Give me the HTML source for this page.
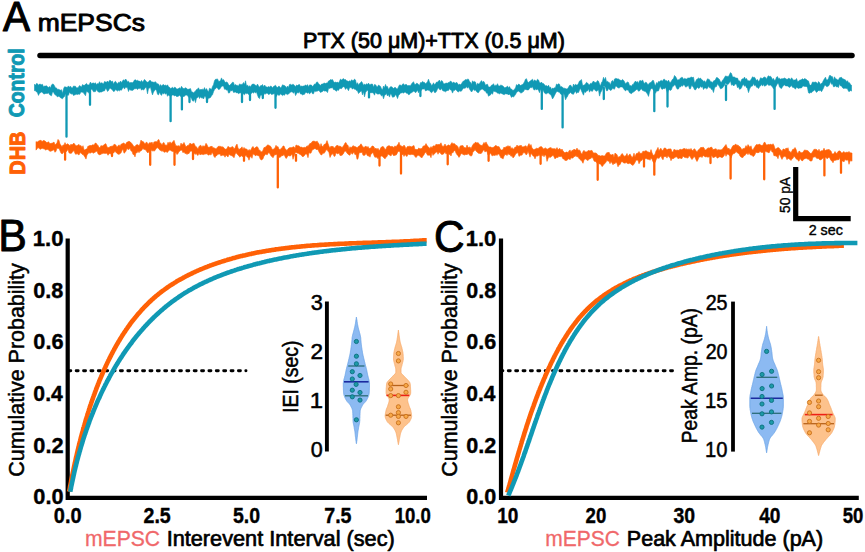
<!DOCTYPE html>
<html><head><meta charset="utf-8"><title>mEPSCs</title>
<style>
html,body{margin:0;padding:0;background:#fff;}
body{width:865px;height:552px;overflow:hidden;}
svg{display:block;font-family:"Liberation Sans", sans-serif;}
</style></head><body>
<svg width="865" height="552" viewBox="0 0 865 552">
<rect width="865" height="552" fill="#fff"/>
<text x="3.12" y="31.2" font-size="42.6" font-weight="normal" fill="#000" textLength="27.06" lengthAdjust="spacingAndGlyphs" stroke="#000" stroke-width="1.2" stroke-linejoin="round">A</text><text x="37.69" y="31.4" font-size="23.8" font-weight="normal" fill="#000" textLength="107.31" lengthAdjust="spacingAndGlyphs" stroke="#000" stroke-width="0.9" stroke-linejoin="round">mEPSCs</text><text x="303.09" y="47.5" font-size="22.1" font-weight="normal" fill="#000" textLength="261.80" lengthAdjust="spacingAndGlyphs" stroke="#000" stroke-width="0.9" stroke-linejoin="round">PTX (50 μM)+TTX (0.5 μM)</text><line x1="40" y1="55.6" x2="852" y2="55.6" stroke="#000" stroke-width="5.5" stroke-linecap="round"/><text transform="translate(23.7 117) rotate(-90)" x="-0.30" y="0" font-size="22.2" font-weight="bold" fill="#1099b4" textLength="69.07" lengthAdjust="spacingAndGlyphs" stroke="#1099b4" stroke-width="1.0" stroke-linejoin="round">Control</text><text transform="translate(25.4 173.8) rotate(-90)" x="-0.83" y="0" font-size="22.2" font-weight="bold" fill="#ff6106" textLength="43.03" lengthAdjust="spacingAndGlyphs" stroke="#ff6106" stroke-width="1.0" stroke-linejoin="round">DHB</text><path d="M34.5 84.3 L35.5 85.3 L36.5 83.5 L37.5 83.8 L38.5 85.3 L39.5 84.1 L40.5 84.3 L41.5 84.7 L42.5 84.3 L43.5 87.0 L44.5 85.9 L45.5 86.1 L46.5 85.8 L47.5 86.7 L48.5 87.4 L49.5 86.5 L50.5 88.1 L51.5 84.9 L52.5 84.1 L53.5 84.3 L54.5 85.9 L55.5 87.9 L56.5 87.9 L57.5 89.5 L58.5 89.3 L59.5 89.7 L60.5 90.2 L61.5 89.7 L62.5 93.4 L63.5 88.9 L64.5 86.8 L65.5 86.9 L66.5 87.3 L67.5 87.2 L68.5 85.9 L69.5 87.3 L70.5 86.2 L71.5 87.7 L72.5 87.9 L73.5 86.0 L74.5 86.2 L75.5 86.3 L76.5 87.9 L77.5 87.8 L78.5 87.2 L79.5 85.6 L80.5 86.3 L81.5 87.1 L82.5 84.6 L83.5 85.3 L84.5 85.3 L85.5 84.3 L86.5 83.4 L87.5 84.9 L88.5 84.9 L89.5 84.2 L90.5 82.0 L91.5 84.1 L92.5 83.0 L93.5 83.0 L94.5 83.4 L95.5 82.8 L96.5 84.7 L97.5 83.6 L98.5 83.9 L99.5 81.7 L100.5 83.6 L101.5 82.7 L102.5 83.2 L103.5 84.0 L104.5 81.5 L105.5 81.9 L106.5 82.3 L107.5 81.0 L108.5 82.6 L109.5 80.4 L110.5 80.5 L111.5 81.7 L112.5 81.1 L113.5 84.2 L114.5 82.1 L115.5 81.3 L116.5 82.8 L117.5 84.1 L118.5 82.2 L119.5 82.7 L120.5 81.1 L121.5 82.7 L122.5 81.0 L123.5 79.8 L124.5 80.7 L125.5 79.0 L126.5 80.0 L127.5 82.0 L128.5 81.2 L129.5 83.0 L130.5 82.6 L131.5 82.5 L132.5 82.7 L133.5 81.7 L134.5 80.0 L135.5 79.8 L136.5 80.7 L137.5 80.3 L138.5 81.0 L139.5 81.1 L140.5 82.1 L141.5 80.4 L142.5 82.2 L143.5 80.9 L144.5 79.4 L145.5 80.5 L146.5 81.8 L147.5 82.3 L148.5 81.9 L149.5 80.5 L150.5 80.5 L151.5 82.0 L152.5 81.9 L153.5 82.3 L154.5 82.2 L155.5 81.7 L156.5 83.2 L157.5 83.7 L158.5 84.0 L159.5 86.4 L160.5 84.6 L161.5 86.2 L162.5 84.9 L163.5 84.5 L164.5 85.6 L165.5 84.9 L166.5 86.1 L167.5 84.8 L168.5 86.8 L169.5 87.3 L170.5 88.4 L171.5 88.1 L172.5 87.2 L173.5 88.5 L174.5 87.2 L175.5 87.6 L176.5 89.0 L177.5 89.0 L178.5 88.5 L179.5 87.8 L180.5 88.7 L181.5 86.3 L182.5 88.0 L183.5 88.5 L184.5 88.4 L185.5 87.7 L186.5 88.3 L187.5 89.3 L188.5 89.3 L189.5 88.9 L190.5 88.6 L191.5 91.8 L192.5 92.1 L193.5 92.8 L194.5 92.0 L195.5 91.0 L196.5 89.6 L197.5 89.2 L198.5 87.8 L199.5 90.0 L200.5 89.5 L201.5 89.5 L202.5 89.2 L203.5 89.7 L204.5 87.6 L205.5 90.2 L206.5 88.6 L207.5 90.6 L208.5 91.9 L209.5 88.2 L210.5 88.8 L211.5 89.5 L212.5 86.4 L213.5 84.7 L214.5 80.7 L215.5 79.3 L216.5 79.2 L217.5 78.9 L218.5 81.2 L219.5 81.2 L220.5 80.6 L221.5 77.9 L222.5 80.3 L223.5 79.6 L224.5 81.3 L225.5 82.5 L226.5 82.0 L227.5 82.6 L228.5 84.6 L229.5 85.6 L230.5 84.4 L231.5 83.6 L232.5 82.2 L233.5 82.4 L234.5 85.6 L235.5 84.5 L236.5 85.3 L237.5 85.4 L238.5 86.1 L239.5 83.9 L240.5 84.4 L241.5 84.4 L242.5 84.3 L243.5 82.5 L244.5 84.6 L245.5 80.8 L246.5 85.9 L247.5 84.9 L248.5 87.0 L249.5 85.7 L250.5 87.1 L251.5 85.1 L252.5 84.1 L253.5 84.1 L254.5 84.4 L255.5 85.3 L256.5 86.0 L257.5 84.1 L258.5 86.1 L259.5 87.3 L260.5 85.7 L261.5 85.6 L262.5 84.5 L263.5 87.0 L264.5 85.1 L265.5 86.2 L266.5 86.9 L267.5 87.2 L268.5 86.5 L269.5 87.2 L270.5 86.0 L271.5 86.4 L272.5 87.9 L273.5 86.5 L274.5 85.9 L275.5 85.2 L276.5 87.1 L277.5 87.6 L278.5 86.3 L279.5 86.4 L280.5 88.1 L281.5 87.0 L282.5 84.8 L283.5 85.3 L284.5 85.6 L285.5 86.3 L286.5 87.9 L287.5 86.0 L288.5 87.4 L289.5 84.5 L290.5 84.3 L291.5 85.0 L292.5 84.4 L293.5 84.4 L294.5 85.6 L295.5 86.8 L296.5 85.0 L297.5 85.5 L298.5 84.8 L299.5 84.5 L300.5 86.5 L301.5 86.1 L302.5 86.3 L303.5 86.0 L304.5 86.0 L305.5 84.8 L306.5 86.0 L307.5 84.6 L308.5 86.9 L309.5 84.9 L310.5 84.9 L311.5 85.1 L312.5 86.5 L313.5 85.6 L314.5 84.0 L315.5 84.3 L316.5 82.2 L317.5 81.9 L318.5 83.8 L319.5 84.4 L320.5 85.5 L321.5 84.1 L322.5 84.0 L323.5 83.4 L324.5 83.1 L325.5 83.5 L326.5 83.0 L327.5 83.1 L328.5 81.0 L329.5 80.5 L330.5 79.6 L331.5 79.9 L332.5 79.6 L333.5 81.4 L334.5 82.5 L335.5 82.1 L336.5 82.5 L337.5 82.1 L338.5 83.1 L339.5 81.3 L340.5 79.1 L341.5 80.0 L342.5 79.3 L343.5 78.6 L344.5 79.7 L345.5 79.5 L346.5 80.7 L347.5 81.0 L348.5 81.5 L349.5 80.8 L350.5 81.5 L351.5 79.8 L352.5 80.4 L353.5 80.6 L354.5 79.1 L355.5 80.0 L356.5 84.5 L357.5 82.7 L358.5 85.2 L359.5 83.6 L360.5 82.7 L361.5 81.5 L362.5 82.9 L363.5 85.3 L364.5 84.1 L365.5 85.0 L366.5 83.7 L367.5 84.6 L368.5 83.1 L369.5 84.7 L370.5 84.4 L371.5 84.1 L372.5 84.1 L373.5 87.2 L374.5 84.5 L375.5 84.8 L376.5 86.3 L377.5 86.9 L378.5 85.1 L379.5 85.7 L380.5 86.4 L381.5 88.7 L382.5 90.0 L383.5 86.0 L384.5 87.7 L385.5 84.4 L386.5 86.8 L387.5 86.5 L388.5 89.6 L389.5 88.0 L390.5 86.7 L391.5 86.7 L392.5 87.4 L393.5 88.5 L394.5 87.6 L395.5 87.5 L396.5 88.7 L397.5 88.9 L398.5 86.7 L399.5 84.9 L400.5 84.9 L401.5 85.9 L402.5 84.2 L403.5 83.7 L404.5 85.2 L405.5 84.5 L406.5 84.5 L407.5 85.7 L408.5 85.5 L409.5 85.6 L410.5 85.8 L411.5 83.9 L412.5 82.8 L413.5 81.7 L414.5 84.3 L415.5 84.5 L416.5 83.2 L417.5 83.5 L418.5 84.4 L419.5 85.5 L420.5 82.6 L421.5 82.7 L422.5 81.4 L423.5 82.2 L424.5 82.4 L425.5 83.8 L426.5 83.1 L427.5 81.7 L428.5 79.2 L429.5 82.3 L430.5 83.3 L431.5 85.4 L432.5 84.8 L433.5 82.8 L434.5 84.8 L435.5 83.7 L436.5 82.1 L437.5 82.2 L438.5 81.1 L439.5 80.1 L440.5 82.6 L441.5 80.5 L442.5 81.2 L443.5 83.8 L444.5 83.8 L445.5 83.3 L446.5 83.1 L447.5 83.2 L448.5 82.5 L449.5 82.2 L450.5 81.1 L451.5 81.7 L452.5 83.3 L453.5 82.1 L454.5 82.8 L455.5 83.2 L456.5 82.2 L457.5 83.3 L458.5 85.1 L459.5 84.1 L460.5 84.7 L461.5 83.7 L462.5 82.0 L463.5 81.0 L464.5 80.4 L465.5 79.6 L466.5 79.8 L467.5 79.2 L468.5 79.2 L469.5 81.6 L470.5 82.2 L471.5 84.6 L472.5 80.8 L473.5 82.1 L474.5 81.4 L475.5 82.1 L476.5 85.7 L477.5 83.3 L478.5 84.0 L479.5 83.4 L480.5 81.9 L481.5 80.6 L482.5 82.4 L483.5 81.2 L484.5 82.6 L485.5 85.3 L486.5 84.5 L487.5 84.2 L488.5 87.1 L489.5 87.1 L490.5 86.7 L491.5 85.2 L492.5 85.0 L493.5 83.7 L494.5 85.9 L495.5 85.2 L496.5 85.5 L497.5 83.7 L498.5 85.9 L499.5 86.0 L500.5 85.2 L501.5 85.3 L502.5 85.7 L503.5 86.5 L504.5 87.8 L505.5 87.5 L506.5 87.0 L507.5 86.1 L508.5 88.0 L509.5 86.6 L510.5 88.7 L511.5 89.0 L512.5 90.3 L513.5 90.2 L514.5 89.3 L515.5 88.0 L516.5 84.6 L517.5 85.6 L518.5 84.1 L519.5 84.6 L520.5 85.5 L521.5 84.9 L522.5 84.6 L523.5 83.4 L524.5 81.7 L525.5 79.2 L526.5 78.7 L527.5 81.8 L528.5 82.4 L529.5 81.5 L530.5 80.8 L531.5 80.1 L532.5 79.2 L533.5 81.8 L534.5 79.8 L535.5 80.8 L536.5 81.2 L537.5 79.2 L538.5 80.0 L539.5 82.5 L540.5 83.1 L541.5 82.1 L542.5 83.5 L543.5 83.6 L544.5 84.7 L545.5 86.0 L546.5 85.6 L547.5 86.6 L548.5 85.2 L549.5 87.4 L550.5 87.1 L551.5 89.5 L552.5 88.1 L553.5 88.4 L554.5 87.8 L555.5 87.4 L556.5 84.0 L557.5 84.7 L558.5 83.8 L559.5 84.2 L560.5 86.9 L561.5 86.6 L562.5 87.2 L563.5 88.2 L564.5 88.2 L565.5 88.6 L566.5 88.9 L567.5 88.7 L568.5 87.3 L569.5 85.5 L570.5 85.1 L571.5 86.2 L572.5 88.0 L573.5 84.0 L574.5 85.7 L575.5 84.3 L576.5 85.0 L577.5 84.9 L578.5 83.3 L579.5 81.1 L580.5 80.4 L581.5 79.6 L582.5 85.2 L583.5 85.3 L584.5 84.8 L585.5 84.0 L586.5 82.3 L587.5 83.1 L588.5 84.2 L589.5 84.9 L590.5 83.3 L591.5 83.7 L592.5 82.2 L593.5 81.0 L594.5 82.3 L595.5 82.6 L596.5 82.2 L597.5 80.6 L598.5 81.3 L599.5 83.9 L600.5 86.0 L601.5 82.5 L602.5 81.2 L603.5 77.3 L604.5 80.0 L605.5 77.4 L606.5 81.7 L607.5 81.2 L608.5 82.3 L609.5 82.7 L610.5 85.0 L611.5 81.5 L612.5 80.4 L613.5 82.2 L614.5 79.0 L615.5 78.4 L616.5 78.6 L617.5 78.9 L618.5 78.9 L619.5 79.7 L620.5 80.3 L621.5 80.5 L622.5 79.4 L623.5 80.3 L624.5 81.7 L625.5 83.9 L626.5 82.7 L627.5 82.0 L628.5 82.5 L629.5 85.5 L630.5 85.6 L631.5 86.2 L632.5 84.4 L633.5 84.2 L634.5 82.2 L635.5 81.1 L636.5 82.2 L637.5 81.6 L638.5 83.4 L639.5 80.8 L640.5 80.6 L641.5 81.3 L642.5 79.9 L643.5 81.9 L644.5 83.8 L645.5 82.2 L646.5 82.6 L647.5 84.3 L648.5 84.4 L649.5 82.9 L650.5 82.6 L651.5 82.0 L652.5 80.4 L653.5 80.5 L654.5 84.0 L655.5 85.8 L656.5 82.6 L657.5 83.4 L658.5 81.4 L659.5 81.7 L660.5 80.8 L661.5 80.4 L662.5 81.2 L663.5 79.4 L664.5 79.2 L665.5 80.7 L666.5 80.6 L667.5 81.8 L668.5 80.1 L669.5 82.3 L670.5 82.4 L671.5 80.9 L672.5 79.3 L673.5 78.6 L674.5 75.5 L675.5 76.5 L676.5 78.3 L677.5 80.3 L678.5 79.7 L679.5 79.4 L680.5 78.0 L681.5 77.4 L682.5 77.4 L683.5 79.3 L684.5 78.4 L685.5 78.8 L686.5 79.1 L687.5 78.2 L688.5 78.0 L689.5 78.0 L690.5 77.4 L691.5 77.1 L692.5 77.5 L693.5 77.2 L694.5 83.0 L695.5 81.7 L696.5 79.6 L697.5 78.9 L698.5 78.0 L699.5 78.7 L700.5 78.1 L701.5 79.6 L702.5 80.1 L703.5 81.4 L704.5 80.8 L705.5 82.4 L706.5 81.0 L707.5 78.8 L708.5 79.2 L709.5 79.7 L710.5 81.8 L711.5 81.7 L712.5 82.7 L713.5 80.9 L714.5 80.5 L715.5 79.6 L716.5 77.5 L717.5 77.7 L718.5 78.6 L719.5 79.6 L720.5 81.9 L721.5 82.3 L722.5 80.3 L723.5 79.2 L724.5 77.5 L725.5 75.9 L726.5 76.3 L727.5 76.4 L728.5 76.5 L729.5 74.6 L730.5 72.6 L731.5 73.6 L732.5 76.7 L733.5 77.0 L734.5 76.9 L735.5 78.0 L736.5 78.1 L737.5 78.1 L738.5 80.8 L739.5 80.8 L740.5 82.6 L741.5 79.7 L742.5 78.7 L743.5 78.9 L744.5 77.1 L745.5 79.3 L746.5 78.5 L747.5 80.4 L748.5 80.7 L749.5 80.9 L750.5 80.3 L751.5 78.8 L752.5 76.8 L753.5 77.4 L754.5 77.2 L755.5 78.8 L756.5 80.6 L757.5 79.5 L758.5 81.5 L759.5 80.6 L760.5 77.8 L761.5 78.2 L762.5 78.5 L763.5 77.4 L764.5 77.0 L765.5 77.4 L766.5 79.2 L767.5 76.9 L768.5 75.7 L769.5 76.6 L770.5 76.2 L771.5 77.5 L772.5 79.4 L773.5 78.4 L774.5 80.5 L775.5 79.9 L776.5 77.2 L777.5 76.6 L778.5 78.7 L779.5 78.3 L780.5 79.2 L781.5 78.7 L782.5 78.7 L783.5 78.6 L784.5 78.0 L785.5 78.6 L786.5 79.2 L787.5 79.3 L788.5 78.3 L789.5 78.6 L790.5 79.7 L791.5 77.8 L792.5 79.0 L793.5 80.2 L794.5 80.0 L795.5 80.1 L796.5 78.5 L797.5 81.4 L798.5 81.2 L799.5 80.3 L800.5 80.0 L801.5 79.6 L802.5 78.7 L803.5 79.6 L804.5 78.6 L805.5 79.0 L806.5 79.6 L807.5 80.6 L808.5 81.0 L809.5 84.6 L810.5 85.3 L811.5 84.6 L812.5 82.0 L813.5 82.2 L814.5 82.3 L815.5 82.0 L816.5 82.5 L817.5 84.0 L818.5 81.6 L819.5 82.6 L820.5 84.5 L821.5 83.3 L822.5 82.4 L823.5 80.3 L824.5 78.7 L825.5 77.2 L826.5 80.0 L827.5 79.9 L828.5 78.4 L829.5 75.5 L830.5 75.6 L831.5 76.4 L832.5 76.7 L833.5 80.4 L834.5 76.8 L835.5 78.8 L836.5 78.9 L837.5 79.9 L838.5 79.9 L839.5 77.8 L840.5 77.6 L841.5 77.3 L842.5 78.7 L843.5 79.0 L844.5 79.5 L845.5 79.9 L846.5 81.7 L847.5 80.7 L848.5 82.8 L849.5 82.7 L850.5 84.6 L851.5 85.2 L851.5 91.1 L850.5 90.6 L849.5 91.4 L848.5 91.3 L847.5 88.7 L846.5 88.6 L845.5 88.3 L844.5 88.3 L843.5 88.5 L842.5 87.7 L841.5 85.9 L840.5 85.9 L839.5 83.7 L838.5 87.5 L837.5 86.8 L836.5 87.0 L835.5 85.7 L834.5 86.7 L833.5 86.8 L832.5 83.7 L831.5 84.3 L830.5 81.5 L829.5 84.4 L828.5 86.0 L827.5 86.6 L826.5 86.6 L825.5 85.3 L824.5 85.4 L823.5 88.0 L822.5 89.9 L821.5 91.7 L820.5 90.2 L819.5 90.7 L818.5 90.4 L817.5 91.5 L816.5 92.4 L815.5 90.9 L814.5 89.8 L813.5 91.0 L812.5 91.4 L811.5 92.7 L810.5 92.6 L809.5 93.3 L808.5 92.8 L807.5 87.7 L806.5 86.5 L805.5 86.5 L804.5 86.4 L803.5 86.1 L802.5 86.6 L801.5 87.9 L800.5 88.0 L799.5 88.1 L798.5 88.5 L797.5 88.0 L796.5 86.9 L795.5 89.2 L794.5 88.1 L793.5 87.4 L792.5 87.3 L791.5 85.6 L790.5 86.6 L789.5 87.5 L788.5 86.7 L787.5 85.9 L786.5 85.9 L785.5 85.9 L784.5 84.8 L783.5 85.7 L782.5 86.7 L781.5 88.6 L780.5 87.9 L779.5 87.1 L778.5 83.5 L777.5 83.5 L776.5 85.5 L775.5 87.1 L774.5 87.3 L773.5 88.8 L772.5 87.0 L771.5 85.9 L770.5 84.9 L769.5 85.3 L768.5 85.3 L767.5 83.7 L766.5 85.2 L765.5 85.7 L764.5 86.2 L763.5 84.3 L762.5 86.1 L761.5 84.2 L760.5 85.9 L759.5 86.8 L758.5 88.6 L757.5 87.6 L756.5 87.2 L755.5 85.1 L754.5 85.7 L753.5 83.5 L752.5 86.0 L751.5 86.3 L750.5 87.0 L749.5 89.3 L748.5 92.6 L747.5 88.6 L746.5 87.7 L745.5 85.5 L744.5 86.3 L743.5 84.6 L742.5 85.2 L741.5 87.8 L740.5 89.0 L739.5 89.3 L738.5 86.7 L737.5 87.7 L736.5 84.3 L735.5 84.1 L734.5 85.0 L733.5 86.0 L732.5 84.4 L731.5 85.2 L730.5 81.1 L729.5 82.5 L728.5 84.1 L727.5 84.8 L726.5 83.9 L725.5 82.9 L724.5 85.2 L723.5 86.6 L722.5 87.9 L721.5 88.4 L720.5 88.8 L719.5 86.8 L718.5 85.2 L717.5 83.7 L716.5 86.6 L715.5 86.7 L714.5 88.0 L713.5 92.5 L712.5 89.6 L711.5 89.5 L710.5 87.8 L709.5 87.8 L708.5 86.1 L707.5 88.3 L706.5 88.8 L705.5 88.0 L704.5 87.9 L703.5 89.5 L702.5 86.4 L701.5 87.4 L700.5 85.9 L699.5 87.9 L698.5 88.4 L697.5 87.1 L696.5 88.5 L695.5 89.9 L694.5 89.6 L693.5 87.4 L692.5 86.1 L691.5 85.6 L690.5 88.8 L689.5 88.9 L688.5 85.6 L687.5 86.1 L686.5 86.8 L685.5 87.1 L684.5 84.9 L683.5 84.8 L682.5 86.3 L681.5 85.5 L680.5 87.0 L679.5 86.7 L678.5 88.9 L677.5 89.2 L676.5 88.0 L675.5 85.2 L674.5 84.8 L673.5 86.2 L672.5 86.4 L671.5 89.6 L670.5 90.5 L669.5 89.8 L668.5 90.0 L667.5 93.2 L666.5 89.9 L665.5 87.5 L664.5 88.7 L663.5 88.4 L662.5 89.3 L661.5 89.0 L660.5 86.3 L659.5 88.1 L658.5 90.9 L657.5 91.1 L656.5 91.0 L655.5 93.3 L654.5 89.4 L653.5 90.6 L652.5 88.4 L651.5 88.4 L650.5 89.6 L649.5 92.2 L648.5 96.4 L647.5 94.1 L646.5 92.7 L645.5 91.6 L644.5 91.3 L643.5 90.8 L642.5 90.4 L641.5 88.8 L640.5 89.4 L639.5 90.9 L638.5 91.2 L637.5 89.6 L636.5 89.4 L635.5 90.4 L634.5 91.3 L633.5 92.0 L632.5 92.5 L631.5 93.7 L630.5 93.2 L629.5 92.7 L628.5 90.6 L627.5 90.1 L626.5 89.8 L625.5 90.9 L624.5 90.0 L623.5 88.6 L622.5 87.0 L621.5 86.9 L620.5 86.9 L619.5 87.8 L618.5 88.0 L617.5 87.4 L616.5 86.3 L615.5 86.3 L614.5 89.2 L613.5 88.8 L612.5 88.2 L611.5 90.0 L610.5 90.5 L609.5 89.6 L608.5 88.6 L607.5 90.7 L606.5 90.8 L605.5 87.6 L604.5 86.3 L603.5 85.9 L602.5 88.9 L601.5 91.1 L600.5 92.8 L599.5 96.1 L598.5 89.8 L597.5 90.6 L596.5 91.3 L595.5 90.8 L594.5 89.6 L593.5 88.9 L592.5 91.3 L591.5 91.1 L590.5 90.2 L589.5 92.2 L588.5 88.8 L587.5 90.9 L586.5 91.0 L585.5 92.6 L584.5 91.5 L583.5 95.2 L582.5 93.0 L581.5 90.9 L580.5 88.2 L579.5 90.1 L578.5 92.5 L577.5 92.2 L576.5 93.4 L575.5 91.3 L574.5 92.2 L573.5 94.3 L572.5 94.1 L571.5 93.6 L570.5 92.2 L569.5 93.5 L568.5 94.0 L567.5 96.4 L566.5 97.8 L565.5 99.8 L564.5 95.5 L563.5 92.7 L562.5 95.0 L561.5 94.5 L560.5 93.9 L559.5 92.2 L558.5 92.1 L557.5 91.4 L556.5 91.7 L555.5 93.4 L554.5 95.4 L553.5 97.4 L552.5 98.9 L551.5 96.0 L550.5 94.5 L549.5 94.1 L548.5 92.7 L547.5 93.1 L546.5 93.8 L545.5 93.7 L544.5 93.0 L543.5 91.1 L542.5 89.2 L541.5 90.2 L540.5 89.5 L539.5 92.7 L538.5 90.2 L537.5 88.9 L536.5 90.1 L535.5 88.8 L534.5 90.2 L533.5 89.2 L532.5 86.8 L531.5 87.8 L530.5 87.6 L529.5 88.5 L528.5 89.9 L527.5 89.9 L526.5 89.7 L525.5 89.4 L524.5 89.6 L523.5 91.5 L522.5 92.1 L521.5 93.1 L520.5 92.8 L519.5 92.0 L518.5 90.9 L517.5 91.7 L516.5 92.4 L515.5 94.6 L514.5 95.8 L513.5 97.1 L512.5 96.4 L511.5 97.4 L510.5 95.4 L509.5 94.0 L508.5 95.0 L507.5 93.9 L506.5 93.9 L505.5 93.8 L504.5 94.6 L503.5 94.5 L502.5 93.9 L501.5 93.4 L500.5 92.9 L499.5 94.1 L498.5 93.2 L497.5 93.2 L496.5 92.0 L495.5 91.8 L494.5 91.4 L493.5 90.9 L492.5 94.3 L491.5 92.9 L490.5 94.9 L489.5 95.5 L488.5 96.2 L487.5 93.0 L486.5 93.2 L485.5 91.1 L484.5 90.9 L483.5 90.0 L482.5 88.9 L481.5 89.3 L480.5 90.0 L479.5 90.8 L478.5 92.7 L477.5 92.5 L476.5 91.6 L475.5 89.9 L474.5 90.6 L473.5 88.9 L472.5 90.8 L471.5 92.0 L470.5 90.6 L469.5 89.0 L468.5 86.7 L467.5 88.2 L466.5 86.4 L465.5 88.1 L464.5 88.3 L463.5 88.3 L462.5 89.2 L461.5 91.1 L460.5 91.3 L459.5 90.7 L458.5 92.1 L457.5 91.5 L456.5 90.2 L455.5 89.6 L454.5 90.4 L453.5 90.6 L452.5 93.1 L451.5 90.2 L450.5 89.9 L449.5 88.6 L448.5 90.4 L447.5 90.4 L446.5 90.9 L445.5 91.8 L444.5 91.2 L443.5 91.0 L442.5 90.4 L441.5 88.2 L440.5 89.9 L439.5 89.4 L438.5 87.8 L437.5 88.9 L436.5 91.3 L435.5 92.6 L434.5 92.5 L433.5 90.3 L432.5 91.7 L431.5 92.8 L430.5 91.9 L429.5 90.6 L428.5 90.3 L427.5 90.0 L426.5 90.5 L425.5 90.9 L424.5 88.7 L423.5 89.1 L422.5 89.1 L421.5 90.0 L420.5 91.0 L419.5 90.8 L418.5 92.8 L417.5 90.1 L416.5 91.7 L415.5 92.8 L414.5 91.4 L413.5 91.2 L412.5 92.0 L411.5 92.7 L410.5 92.9 L409.5 94.4 L408.5 94.7 L407.5 93.2 L406.5 93.2 L405.5 92.3 L404.5 92.2 L403.5 93.2 L402.5 92.6 L401.5 92.9 L400.5 93.0 L399.5 94.4 L398.5 95.5 L397.5 98.6 L396.5 95.9 L395.5 94.4 L394.5 96.6 L393.5 97.0 L392.5 97.2 L391.5 94.8 L390.5 93.8 L389.5 97.1 L388.5 94.5 L387.5 96.0 L386.5 93.6 L385.5 94.8 L384.5 95.5 L383.5 98.8 L382.5 95.1 L381.5 96.0 L380.5 94.3 L379.5 93.8 L378.5 94.1 L377.5 94.1 L376.5 93.4 L375.5 92.2 L374.5 95.2 L373.5 93.0 L372.5 92.7 L371.5 92.7 L370.5 92.9 L369.5 91.5 L368.5 91.4 L367.5 90.3 L366.5 91.0 L365.5 92.6 L364.5 96.8 L363.5 91.5 L362.5 94.9 L361.5 90.8 L360.5 91.4 L359.5 92.5 L358.5 93.5 L357.5 90.8 L356.5 90.6 L355.5 89.3 L354.5 89.3 L353.5 87.9 L352.5 89.2 L351.5 87.7 L350.5 87.6 L349.5 87.7 L348.5 90.7 L347.5 88.8 L346.5 87.9 L345.5 89.4 L344.5 87.1 L343.5 86.7 L342.5 87.2 L341.5 88.7 L340.5 88.4 L339.5 88.4 L338.5 90.4 L337.5 89.8 L336.5 91.3 L335.5 90.5 L334.5 89.7 L333.5 89.6 L332.5 87.5 L331.5 87.9 L330.5 88.0 L329.5 88.5 L328.5 88.6 L327.5 92.6 L326.5 91.2 L325.5 90.9 L324.5 91.1 L323.5 90.6 L322.5 91.5 L321.5 91.9 L320.5 92.5 L319.5 91.1 L318.5 90.5 L317.5 91.1 L316.5 91.2 L315.5 91.6 L314.5 91.1 L313.5 93.8 L312.5 93.7 L311.5 91.6 L310.5 93.0 L309.5 93.9 L308.5 92.6 L307.5 93.2 L306.5 92.4 L305.5 92.4 L304.5 94.3 L303.5 94.5 L302.5 94.9 L301.5 94.1 L300.5 94.0 L299.5 91.5 L298.5 93.1 L297.5 92.4 L296.5 93.8 L295.5 95.6 L294.5 91.4 L293.5 93.3 L292.5 91.9 L291.5 91.8 L290.5 92.1 L289.5 93.1 L288.5 94.1 L287.5 94.6 L286.5 94.0 L285.5 93.4 L284.5 95.3 L283.5 94.8 L282.5 95.6 L281.5 94.8 L280.5 93.8 L279.5 95.2 L278.5 95.3 L277.5 94.0 L276.5 96.4 L275.5 95.1 L274.5 93.0 L273.5 94.1 L272.5 94.2 L271.5 94.5 L270.5 93.1 L269.5 94.2 L268.5 94.5 L267.5 93.2 L266.5 93.2 L265.5 94.0 L264.5 93.4 L263.5 95.5 L262.5 94.0 L261.5 95.3 L260.5 94.9 L259.5 98.6 L258.5 97.7 L257.5 95.1 L256.5 92.1 L255.5 93.0 L254.5 91.7 L253.5 93.2 L252.5 92.3 L251.5 93.3 L250.5 94.3 L249.5 93.7 L248.5 94.5 L247.5 93.2 L246.5 93.7 L245.5 93.1 L244.5 94.8 L243.5 94.0 L242.5 93.1 L241.5 91.7 L240.5 93.1 L239.5 93.1 L238.5 93.7 L237.5 92.7 L236.5 92.9 L235.5 91.9 L234.5 92.2 L233.5 92.4 L232.5 89.9 L231.5 90.9 L230.5 90.6 L229.5 92.9 L228.5 93.1 L227.5 89.8 L226.5 90.2 L225.5 89.1 L224.5 89.3 L223.5 86.0 L222.5 86.1 L221.5 86.4 L220.5 88.0 L219.5 89.3 L218.5 89.5 L217.5 87.9 L216.5 87.5 L215.5 88.8 L214.5 89.6 L213.5 91.7 L212.5 94.7 L211.5 95.8 L210.5 97.5 L209.5 98.1 L208.5 98.1 L207.5 100.0 L206.5 99.4 L205.5 96.2 L204.5 96.6 L203.5 99.0 L202.5 97.8 L201.5 98.1 L200.5 96.8 L199.5 98.5 L198.5 96.3 L197.5 97.7 L196.5 98.1 L195.5 102.6 L194.5 98.7 L193.5 101.2 L192.5 100.8 L191.5 98.6 L190.5 96.7 L189.5 98.2 L188.5 96.8 L187.5 95.8 L186.5 95.1 L185.5 95.1 L184.5 96.3 L183.5 96.5 L182.5 97.5 L181.5 95.1 L180.5 96.5 L179.5 95.0 L178.5 96.2 L177.5 96.5 L176.5 96.5 L175.5 95.4 L174.5 96.0 L173.5 95.0 L172.5 95.0 L171.5 95.8 L170.5 96.6 L169.5 95.7 L168.5 95.0 L167.5 96.3 L166.5 93.1 L165.5 94.3 L164.5 92.8 L163.5 94.0 L162.5 93.1 L161.5 95.4 L160.5 94.2 L159.5 92.0 L158.5 94.9 L157.5 94.2 L156.5 90.2 L155.5 89.5 L154.5 90.8 L153.5 91.9 L152.5 94.9 L151.5 91.6 L150.5 87.3 L149.5 88.1 L148.5 88.4 L147.5 93.8 L146.5 87.8 L145.5 87.4 L144.5 88.9 L143.5 90.1 L142.5 89.2 L141.5 90.2 L140.5 87.9 L139.5 88.6 L138.5 88.6 L137.5 89.6 L136.5 88.6 L135.5 88.7 L134.5 88.7 L133.5 89.8 L132.5 90.4 L131.5 90.3 L130.5 90.2 L129.5 89.0 L128.5 91.5 L127.5 87.8 L126.5 87.6 L125.5 87.2 L124.5 89.1 L123.5 87.3 L122.5 88.2 L121.5 90.2 L120.5 89.9 L119.5 90.8 L118.5 90.2 L117.5 91.1 L116.5 90.3 L115.5 89.5 L114.5 91.2 L113.5 91.5 L112.5 89.9 L111.5 89.3 L110.5 88.2 L109.5 88.4 L108.5 90.6 L107.5 91.4 L106.5 89.1 L105.5 88.5 L104.5 90.9 L103.5 91.0 L102.5 91.4 L101.5 92.0 L100.5 92.0 L99.5 92.3 L98.5 91.9 L97.5 91.2 L96.5 89.3 L95.5 91.6 L94.5 91.7 L93.5 91.8 L92.5 90.1 L91.5 89.1 L90.5 90.3 L89.5 92.3 L88.5 92.8 L87.5 92.1 L86.5 91.0 L85.5 95.7 L84.5 94.3 L83.5 92.8 L82.5 92.3 L81.5 92.1 L80.5 92.8 L79.5 94.4 L78.5 94.1 L77.5 94.5 L76.5 94.2 L75.5 94.6 L74.5 95.0 L73.5 95.5 L72.5 93.7 L71.5 94.1 L70.5 93.6 L69.5 92.0 L68.5 95.2 L67.5 95.2 L66.5 94.7 L65.5 93.8 L64.5 96.5 L63.5 97.3 L62.5 98.8 L61.5 98.3 L60.5 97.7 L59.5 96.7 L58.5 96.2 L57.5 96.9 L56.5 95.7 L55.5 95.0 L54.5 94.2 L53.5 92.1 L52.5 91.9 L51.5 95.8 L50.5 95.3 L49.5 94.6 L48.5 92.8 L47.5 93.4 L46.5 93.4 L45.5 93.5 L44.5 93.9 L43.5 93.8 L42.5 92.5 L41.5 92.0 L40.5 92.7 L39.5 93.2 L38.5 95.4 L37.5 92.7 L36.5 91.9 L35.5 90.8 L34.5 90.7Z" fill="#1099b4" stroke="#1099b4" stroke-width="0.6" stroke-linejoin="round"/><path d="M66.5 94.0 L66.5 136.7M90.0 90.1 L90.0 104.8M170.6 93.7 L170.6 121.2M181.9 94.9 L181.9 109.4M189.5 95.4 L189.5 102.0M207.0 95.8 L207.0 102.0M242.0 91.9 L242.0 102.0M250.0 92.4 L250.0 100.0M262.8 92.8 L262.8 98.0M275.5 93.0 L275.5 107.8M369.0 90.7 L369.0 97.4M420.4 89.0 L420.4 96.0M541.8 88.9 L541.8 108.9M562.6 92.4 L562.6 127.4M603.8 87.7 L603.8 99.0M654.3 87.6 L654.3 111.2M667.5 86.5 L667.5 106.6M726.0 85.3 L726.0 100.0M774.6 84.6 L774.6 108.9" fill="none" stroke="#1099b4" stroke-width="2.3" stroke-linecap="round"/><path d="M36.0 141.5 L37.0 142.3 L38.0 141.5 L39.0 140.8 L40.0 140.6 L41.0 140.2 L42.0 141.6 L43.0 140.9 L44.0 140.2 L45.0 141.2 L46.0 141.8 L47.0 142.8 L48.0 141.8 L49.0 142.3 L50.0 143.8 L51.0 143.3 L52.0 143.3 L53.0 142.8 L54.0 142.0 L55.0 144.7 L56.0 144.2 L57.0 142.7 L58.0 139.4 L59.0 140.5 L60.0 144.1 L61.0 145.3 L62.0 146.8 L63.0 144.9 L64.0 145.3 L65.0 142.6 L66.0 144.9 L67.0 143.8 L68.0 144.1 L69.0 144.9 L70.0 145.8 L71.0 144.1 L72.0 145.2 L73.0 143.8 L74.0 143.2 L75.0 144.6 L76.0 145.8 L77.0 145.8 L78.0 145.0 L79.0 144.4 L80.0 145.9 L81.0 145.6 L82.0 147.7 L83.0 145.7 L84.0 149.8 L85.0 150.0 L86.0 149.0 L87.0 148.9 L88.0 146.0 L89.0 146.2 L90.0 145.1 L91.0 145.9 L92.0 145.1 L93.0 144.7 L94.0 145.2 L95.0 143.3 L96.0 143.1 L97.0 144.4 L98.0 145.4 L99.0 147.5 L100.0 147.8 L101.0 145.4 L102.0 146.3 L103.0 145.6 L104.0 145.0 L105.0 143.8 L106.0 143.9 L107.0 146.8 L108.0 147.7 L109.0 147.5 L110.0 146.4 L111.0 146.6 L112.0 145.9 L113.0 146.2 L114.0 144.3 L115.0 144.5 L116.0 145.2 L117.0 147.3 L118.0 145.9 L119.0 144.8 L120.0 146.5 L121.0 144.2 L122.0 143.9 L123.0 143.3 L124.0 142.9 L125.0 144.6 L126.0 143.6 L127.0 142.0 L128.0 141.9 L129.0 141.0 L130.0 142.1 L131.0 142.5 L132.0 143.7 L133.0 145.2 L134.0 146.4 L135.0 146.8 L136.0 145.0 L137.0 144.8 L138.0 144.7 L139.0 145.8 L140.0 143.9 L141.0 140.1 L142.0 141.4 L143.0 141.5 L144.0 142.4 L145.0 143.9 L146.0 142.4 L147.0 142.3 L148.0 144.5 L149.0 143.2 L150.0 142.4 L151.0 143.2 L152.0 142.0 L153.0 144.4 L154.0 141.8 L155.0 142.1 L156.0 141.3 L157.0 142.2 L158.0 139.8 L159.0 139.7 L160.0 143.2 L161.0 143.3 L162.0 145.3 L163.0 142.9 L164.0 142.6 L165.0 145.2 L166.0 145.0 L167.0 145.4 L168.0 142.2 L169.0 143.7 L170.0 141.8 L171.0 143.5 L172.0 142.4 L173.0 141.8 L174.0 140.3 L175.0 143.6 L176.0 145.9 L177.0 145.8 L178.0 146.2 L179.0 145.5 L180.0 146.7 L181.0 143.1 L182.0 144.8 L183.0 143.9 L184.0 142.4 L185.0 144.8 L186.0 147.0 L187.0 145.8 L188.0 145.4 L189.0 144.9 L190.0 143.1 L191.0 144.1 L192.0 144.3 L193.0 143.5 L194.0 143.2 L195.0 145.4 L196.0 146.7 L197.0 147.4 L198.0 148.9 L199.0 146.6 L200.0 145.4 L201.0 145.4 L202.0 147.4 L203.0 145.6 L204.0 146.6 L205.0 146.0 L206.0 143.3 L207.0 144.7 L208.0 147.1 L209.0 147.6 L210.0 146.5 L211.0 146.8 L212.0 146.1 L213.0 148.2 L214.0 147.5 L215.0 148.6 L216.0 148.9 L217.0 147.7 L218.0 146.6 L219.0 146.2 L220.0 146.4 L221.0 146.4 L222.0 147.2 L223.0 146.7 L224.0 148.1 L225.0 149.1 L226.0 149.3 L227.0 148.5 L228.0 146.3 L229.0 147.2 L230.0 147.7 L231.0 147.5 L232.0 146.7 L233.0 146.8 L234.0 149.1 L235.0 147.9 L236.0 145.5 L237.0 144.1 L238.0 147.9 L239.0 149.5 L240.0 148.8 L241.0 148.2 L242.0 146.8 L243.0 149.4 L244.0 147.4 L245.0 148.8 L246.0 149.0 L247.0 149.2 L248.0 150.7 L249.0 149.5 L250.0 150.4 L251.0 149.8 L252.0 147.6 L253.0 146.4 L254.0 148.5 L255.0 148.1 L256.0 146.9 L257.0 146.7 L258.0 147.4 L259.0 150.2 L260.0 150.2 L261.0 151.9 L262.0 151.8 L263.0 150.2 L264.0 147.5 L265.0 147.5 L266.0 146.5 L267.0 145.4 L268.0 144.8 L269.0 145.5 L270.0 145.9 L271.0 146.7 L272.0 149.2 L273.0 149.5 L274.0 148.7 L275.0 147.9 L276.0 145.3 L277.0 147.1 L278.0 146.6 L279.0 149.3 L280.0 149.8 L281.0 148.4 L282.0 148.0 L283.0 146.0 L284.0 146.0 L285.0 148.5 L286.0 149.5 L287.0 150.6 L288.0 148.8 L289.0 148.1 L290.0 147.6 L291.0 147.7 L292.0 147.5 L293.0 147.0 L294.0 146.7 L295.0 148.5 L296.0 145.0 L297.0 145.4 L298.0 145.9 L299.0 145.7 L300.0 147.1 L301.0 147.3 L302.0 147.0 L303.0 148.3 L304.0 147.0 L305.0 147.7 L306.0 147.2 L307.0 145.7 L308.0 146.4 L309.0 144.8 L310.0 143.3 L311.0 143.6 L312.0 141.7 L313.0 141.2 L314.0 141.1 L315.0 141.5 L316.0 141.9 L317.0 140.9 L318.0 142.8 L319.0 143.7 L320.0 147.0 L321.0 143.6 L322.0 146.3 L323.0 146.8 L324.0 144.5 L325.0 144.3 L326.0 143.2 L327.0 140.6 L328.0 143.5 L329.0 146.3 L330.0 147.7 L331.0 146.1 L332.0 146.8 L333.0 146.2 L334.0 148.1 L335.0 147.8 L336.0 145.9 L337.0 145.6 L338.0 145.4 L339.0 146.4 L340.0 146.0 L341.0 146.8 L342.0 147.4 L343.0 146.4 L344.0 145.1 L345.0 143.1 L346.0 142.6 L347.0 145.0 L348.0 145.3 L349.0 148.9 L350.0 146.7 L351.0 147.8 L352.0 147.0 L353.0 145.6 L354.0 146.4 L355.0 146.5 L356.0 147.1 L357.0 147.7 L358.0 146.7 L359.0 146.2 L360.0 145.2 L361.0 143.8 L362.0 145.4 L363.0 147.0 L364.0 147.4 L365.0 146.7 L366.0 146.1 L367.0 147.6 L368.0 146.4 L369.0 148.5 L370.0 148.3 L371.0 147.8 L372.0 146.0 L373.0 146.1 L374.0 146.9 L375.0 148.9 L376.0 148.1 L377.0 149.6 L378.0 148.2 L379.0 150.6 L380.0 149.6 L381.0 147.3 L382.0 146.9 L383.0 146.3 L384.0 147.6 L385.0 149.6 L386.0 148.9 L387.0 146.5 L388.0 146.2 L389.0 145.5 L390.0 146.3 L391.0 146.7 L392.0 146.2 L393.0 147.0 L394.0 147.4 L395.0 145.8 L396.0 147.0 L397.0 145.3 L398.0 144.5 L399.0 142.2 L400.0 145.6 L401.0 145.8 L402.0 146.4 L403.0 146.7 L404.0 145.1 L405.0 146.5 L406.0 149.1 L407.0 147.0 L408.0 146.2 L409.0 146.7 L410.0 145.9 L411.0 147.1 L412.0 146.6 L413.0 146.0 L414.0 145.5 L415.0 149.8 L416.0 149.1 L417.0 150.0 L418.0 148.8 L419.0 147.9 L420.0 148.9 L421.0 148.6 L422.0 148.6 L423.0 146.2 L424.0 145.9 L425.0 145.7 L426.0 143.6 L427.0 145.6 L428.0 146.5 L429.0 147.5 L430.0 148.6 L431.0 146.6 L432.0 147.9 L433.0 146.0 L434.0 145.8 L435.0 146.3 L436.0 144.2 L437.0 144.7 L438.0 144.6 L439.0 144.4 L440.0 144.4 L441.0 142.8 L442.0 145.8 L443.0 146.5 L444.0 145.9 L445.0 144.0 L446.0 146.1 L447.0 146.2 L448.0 144.9 L449.0 145.0 L450.0 146.0 L451.0 144.0 L452.0 142.6 L453.0 143.9 L454.0 143.5 L455.0 144.1 L456.0 145.4 L457.0 145.5 L458.0 146.9 L459.0 149.5 L460.0 146.2 L461.0 145.7 L462.0 145.7 L463.0 145.6 L464.0 147.7 L465.0 147.4 L466.0 148.2 L467.0 145.1 L468.0 147.5 L469.0 147.4 L470.0 146.9 L471.0 148.7 L472.0 146.4 L473.0 144.4 L474.0 143.7 L475.0 142.6 L476.0 142.2 L477.0 143.2 L478.0 142.4 L479.0 143.8 L480.0 145.0 L481.0 145.2 L482.0 145.7 L483.0 144.3 L484.0 142.4 L485.0 143.7 L486.0 141.9 L487.0 144.0 L488.0 145.6 L489.0 147.1 L490.0 146.9 L491.0 147.0 L492.0 147.9 L493.0 147.2 L494.0 147.3 L495.0 145.8 L496.0 145.5 L497.0 146.3 L498.0 146.8 L499.0 146.6 L500.0 148.6 L501.0 150.1 L502.0 150.1 L503.0 149.4 L504.0 147.0 L505.0 148.1 L506.0 146.5 L507.0 147.0 L508.0 145.6 L509.0 147.0 L510.0 145.8 L511.0 149.0 L512.0 147.5 L513.0 149.3 L514.0 148.7 L515.0 147.0 L516.0 147.3 L517.0 145.0 L518.0 146.6 L519.0 145.6 L520.0 146.2 L521.0 145.0 L522.0 146.8 L523.0 147.1 L524.0 146.5 L525.0 146.2 L526.0 145.7 L527.0 147.7 L528.0 145.5 L529.0 143.6 L530.0 145.9 L531.0 144.5 L532.0 148.0 L533.0 149.1 L534.0 149.7 L535.0 149.1 L536.0 148.7 L537.0 147.9 L538.0 149.1 L539.0 147.4 L540.0 147.1 L541.0 146.4 L542.0 147.1 L543.0 148.6 L544.0 149.2 L545.0 147.7 L546.0 148.5 L547.0 149.0 L548.0 149.2 L549.0 147.9 L550.0 148.0 L551.0 147.4 L552.0 148.7 L553.0 148.8 L554.0 148.7 L555.0 148.7 L556.0 149.4 L557.0 147.6 L558.0 149.8 L559.0 148.8 L560.0 148.6 L561.0 150.4 L562.0 149.0 L563.0 151.1 L564.0 152.0 L565.0 153.0 L566.0 152.0 L567.0 152.1 L568.0 152.7 L569.0 150.9 L570.0 149.9 L571.0 151.9 L572.0 150.3 L573.0 150.5 L574.0 149.1 L575.0 149.9 L576.0 150.1 L577.0 148.1 L578.0 150.2 L579.0 149.9 L580.0 150.4 L581.0 153.1 L582.0 154.2 L583.0 151.6 L584.0 150.3 L585.0 152.1 L586.0 151.7 L587.0 152.1 L588.0 150.6 L589.0 150.6 L590.0 150.9 L591.0 150.5 L592.0 150.4 L593.0 152.6 L594.0 153.2 L595.0 152.8 L596.0 153.2 L597.0 153.7 L598.0 155.6 L599.0 155.2 L600.0 155.9 L601.0 156.0 L602.0 155.5 L603.0 155.8 L604.0 156.1 L605.0 155.8 L606.0 153.8 L607.0 152.4 L608.0 152.9 L609.0 152.1 L610.0 154.5 L611.0 154.8 L612.0 155.0 L613.0 154.1 L614.0 157.5 L615.0 153.0 L616.0 154.0 L617.0 154.6 L618.0 157.4 L619.0 156.4 L620.0 157.0 L621.0 154.9 L622.0 153.5 L623.0 154.4 L624.0 156.2 L625.0 156.2 L626.0 155.5 L627.0 153.5 L628.0 156.4 L629.0 155.1 L630.0 153.9 L631.0 155.8 L632.0 157.4 L633.0 156.6 L634.0 153.2 L635.0 157.0 L636.0 154.2 L637.0 153.0 L638.0 153.4 L639.0 151.5 L640.0 153.7 L641.0 152.9 L642.0 153.5 L643.0 151.0 L644.0 151.7 L645.0 150.9 L646.0 150.7 L647.0 151.2 L648.0 152.3 L649.0 151.9 L650.0 153.0 L651.0 149.6 L652.0 152.8 L653.0 155.1 L654.0 155.6 L655.0 153.9 L656.0 151.0 L657.0 149.4 L658.0 147.4 L659.0 151.1 L660.0 149.1 L661.0 148.3 L662.0 150.4 L663.0 150.5 L664.0 148.2 L665.0 148.0 L666.0 148.5 L667.0 150.1 L668.0 149.1 L669.0 149.0 L670.0 148.9 L671.0 148.9 L672.0 152.1 L673.0 151.9 L674.0 149.3 L675.0 150.0 L676.0 150.2 L677.0 150.2 L678.0 150.1 L679.0 150.6 L680.0 149.0 L681.0 149.7 L682.0 149.6 L683.0 149.0 L684.0 148.4 L685.0 148.7 L686.0 149.4 L687.0 148.7 L688.0 149.7 L689.0 148.7 L690.0 149.9 L691.0 148.4 L692.0 150.3 L693.0 150.7 L694.0 148.8 L695.0 149.2 L696.0 150.7 L697.0 152.2 L698.0 150.2 L699.0 149.4 L700.0 148.5 L701.0 147.1 L702.0 148.0 L703.0 146.9 L704.0 148.0 L705.0 149.9 L706.0 150.1 L707.0 148.7 L708.0 147.7 L709.0 148.3 L710.0 147.8 L711.0 147.1 L712.0 147.4 L713.0 149.9 L714.0 149.1 L715.0 149.3 L716.0 148.6 L717.0 150.4 L718.0 149.5 L719.0 149.9 L720.0 149.8 L721.0 150.0 L722.0 149.4 L723.0 148.3 L724.0 147.1 L725.0 145.7 L726.0 144.5 L727.0 147.2 L728.0 148.8 L729.0 148.2 L730.0 150.1 L731.0 149.2 L732.0 147.2 L733.0 145.6 L734.0 145.5 L735.0 144.5 L736.0 144.2 L737.0 145.5 L738.0 144.9 L739.0 146.4 L740.0 146.7 L741.0 148.3 L742.0 149.8 L743.0 148.4 L744.0 148.8 L745.0 148.0 L746.0 145.6 L747.0 147.6 L748.0 144.6 L749.0 146.0 L750.0 147.5 L751.0 145.8 L752.0 149.5 L753.0 150.1 L754.0 148.0 L755.0 146.5 L756.0 145.0 L757.0 144.3 L758.0 145.2 L759.0 144.0 L760.0 144.6 L761.0 145.3 L762.0 145.6 L763.0 145.1 L764.0 142.5 L765.0 142.3 L766.0 144.6 L767.0 145.2 L768.0 144.2 L769.0 144.7 L770.0 144.5 L771.0 144.1 L772.0 145.3 L773.0 143.7 L774.0 145.5 L775.0 148.8 L776.0 149.3 L777.0 147.9 L778.0 147.8 L779.0 147.8 L780.0 149.4 L781.0 150.1 L782.0 151.4 L783.0 149.1 L784.0 149.0 L785.0 149.9 L786.0 148.0 L787.0 148.7 L788.0 147.7 L789.0 151.5 L790.0 151.4 L791.0 152.8 L792.0 150.8 L793.0 149.0 L794.0 149.4 L795.0 147.5 L796.0 149.3 L797.0 152.6 L798.0 153.5 L799.0 151.1 L800.0 151.6 L801.0 152.7 L802.0 152.8 L803.0 152.3 L804.0 150.4 L805.0 149.9 L806.0 150.5 L807.0 150.3 L808.0 150.9 L809.0 151.8 L810.0 153.2 L811.0 153.6 L812.0 152.6 L813.0 151.0 L814.0 149.3 L815.0 149.4 L816.0 149.2 L817.0 149.9 L818.0 151.3 L819.0 149.2 L820.0 151.7 L821.0 150.7 L822.0 150.9 L823.0 150.6 L824.0 148.2 L825.0 150.6 L826.0 150.3 L827.0 149.6 L828.0 149.9 L829.0 149.2 L830.0 150.6 L831.0 151.0 L832.0 153.8 L833.0 154.1 L834.0 153.6 L835.0 151.5 L836.0 153.2 L837.0 153.5 L838.0 151.6 L839.0 151.0 L840.0 150.9 L841.0 152.2 L842.0 153.2 L843.0 152.3 L844.0 151.5 L845.0 153.1 L846.0 152.3 L847.0 152.2 L848.0 152.5 L849.0 151.4 L850.0 152.8 L851.0 152.9 L852.0 153.0 L852.0 161.2 L851.0 160.5 L850.0 161.0 L849.0 164.3 L848.0 159.7 L847.0 160.2 L846.0 160.1 L845.0 159.6 L844.0 161.9 L843.0 161.1 L842.0 161.1 L841.0 159.9 L840.0 157.2 L839.0 159.5 L838.0 159.7 L837.0 159.8 L836.0 160.1 L835.0 160.4 L834.0 160.2 L833.0 162.8 L832.0 160.9 L831.0 160.5 L830.0 158.4 L829.0 157.0 L828.0 158.1 L827.0 158.7 L826.0 157.6 L825.0 156.9 L824.0 157.5 L823.0 157.9 L822.0 159.0 L821.0 159.7 L820.0 160.0 L819.0 159.1 L818.0 158.0 L817.0 158.7 L816.0 157.6 L815.0 156.5 L814.0 157.2 L813.0 156.9 L812.0 160.8 L811.0 161.0 L810.0 161.0 L809.0 159.2 L808.0 159.2 L807.0 158.7 L806.0 157.9 L805.0 158.9 L804.0 158.7 L803.0 160.4 L802.0 160.9 L801.0 159.7 L800.0 158.5 L799.0 161.2 L798.0 160.4 L797.0 159.3 L796.0 158.7 L795.0 157.2 L794.0 155.9 L793.0 158.3 L792.0 158.8 L791.0 160.5 L790.0 159.4 L789.0 158.7 L788.0 158.2 L787.0 159.7 L786.0 157.1 L785.0 156.2 L784.0 156.5 L783.0 157.2 L782.0 159.4 L781.0 157.5 L780.0 154.9 L779.0 154.6 L778.0 158.7 L777.0 156.3 L776.0 156.3 L775.0 155.4 L774.0 155.9 L773.0 152.0 L772.0 152.0 L771.0 149.6 L770.0 150.9 L769.0 153.0 L768.0 152.2 L767.0 152.1 L766.0 151.6 L765.0 151.3 L764.0 150.9 L763.0 152.5 L762.0 152.2 L761.0 152.4 L760.0 150.9 L759.0 152.7 L758.0 152.4 L757.0 152.9 L756.0 151.9 L755.0 154.4 L754.0 156.0 L753.0 156.6 L752.0 155.2 L751.0 155.0 L750.0 154.7 L749.0 152.4 L748.0 154.7 L747.0 152.9 L746.0 154.0 L745.0 155.5 L744.0 155.6 L743.0 157.4 L742.0 157.5 L741.0 157.0 L740.0 156.1 L739.0 153.7 L738.0 153.2 L737.0 152.4 L736.0 151.5 L735.0 153.1 L734.0 153.6 L733.0 153.7 L732.0 155.5 L731.0 158.1 L730.0 155.6 L729.0 155.3 L728.0 154.2 L727.0 154.0 L726.0 156.3 L725.0 153.2 L724.0 156.0 L723.0 156.7 L722.0 157.9 L721.0 156.9 L720.0 157.0 L719.0 156.7 L718.0 158.1 L717.0 157.9 L716.0 155.9 L715.0 157.0 L714.0 157.2 L713.0 157.7 L712.0 156.1 L711.0 155.2 L710.0 156.5 L709.0 156.8 L708.0 157.3 L707.0 156.8 L706.0 156.7 L705.0 157.0 L704.0 155.7 L703.0 155.7 L702.0 157.6 L701.0 156.5 L700.0 157.0 L699.0 157.0 L698.0 159.7 L697.0 161.5 L696.0 159.7 L695.0 157.2 L694.0 156.5 L693.0 158.3 L692.0 159.6 L691.0 158.2 L690.0 156.2 L689.0 155.8 L688.0 158.1 L687.0 157.8 L686.0 157.6 L685.0 157.6 L684.0 157.0 L683.0 156.0 L682.0 158.5 L681.0 158.5 L680.0 157.9 L679.0 158.2 L678.0 158.7 L677.0 157.0 L676.0 156.7 L675.0 157.5 L674.0 158.0 L673.0 158.9 L672.0 158.3 L671.0 160.7 L670.0 157.5 L669.0 157.0 L668.0 155.4 L667.0 158.1 L666.0 156.3 L665.0 156.8 L664.0 156.2 L663.0 159.8 L662.0 158.4 L661.0 156.1 L660.0 156.8 L659.0 158.5 L658.0 157.8 L657.0 158.1 L656.0 159.9 L655.0 162.6 L654.0 163.3 L653.0 161.7 L652.0 159.3 L651.0 158.0 L650.0 160.3 L649.0 159.3 L648.0 159.3 L647.0 159.0 L646.0 158.3 L645.0 158.9 L644.0 159.2 L643.0 158.4 L642.0 160.3 L641.0 160.4 L640.0 161.9 L639.0 163.8 L638.0 160.2 L637.0 160.1 L636.0 160.2 L635.0 162.4 L634.0 164.1 L633.0 165.4 L632.0 164.8 L631.0 164.2 L630.0 163.2 L629.0 163.2 L628.0 164.0 L627.0 162.8 L626.0 162.6 L625.0 163.2 L624.0 162.9 L623.0 162.5 L622.0 161.4 L621.0 162.4 L620.0 164.7 L619.0 164.8 L618.0 166.8 L617.0 163.5 L616.0 162.0 L615.0 163.7 L614.0 163.3 L613.0 164.8 L612.0 162.9 L611.0 161.5 L610.0 163.7 L609.0 161.1 L608.0 161.2 L607.0 160.3 L606.0 162.1 L605.0 163.5 L604.0 164.0 L603.0 165.8 L602.0 166.6 L601.0 164.8 L600.0 163.8 L599.0 163.9 L598.0 162.2 L597.0 163.2 L596.0 161.5 L595.0 161.6 L594.0 160.9 L593.0 158.0 L592.0 157.6 L591.0 158.1 L590.0 158.9 L589.0 158.9 L588.0 160.6 L587.0 160.1 L586.0 159.2 L585.0 158.7 L584.0 160.1 L583.0 163.3 L582.0 161.4 L581.0 160.3 L580.0 159.5 L579.0 158.5 L578.0 156.4 L577.0 157.1 L576.0 155.6 L575.0 156.4 L574.0 156.4 L573.0 158.1 L572.0 158.1 L571.0 157.8 L570.0 159.8 L569.0 158.7 L568.0 158.9 L567.0 160.4 L566.0 160.2 L565.0 160.6 L564.0 158.9 L563.0 158.9 L562.0 157.1 L561.0 156.1 L560.0 157.0 L559.0 156.0 L558.0 157.6 L557.0 157.3 L556.0 157.8 L555.0 158.9 L554.0 156.7 L553.0 155.3 L552.0 156.1 L551.0 156.7 L550.0 157.7 L549.0 156.6 L548.0 158.7 L547.0 161.4 L546.0 155.6 L545.0 154.7 L544.0 156.8 L543.0 154.5 L542.0 156.2 L541.0 154.1 L540.0 155.7 L539.0 154.6 L538.0 156.2 L537.0 155.7 L536.0 156.3 L535.0 158.9 L534.0 156.2 L533.0 155.9 L532.0 154.6 L531.0 153.5 L530.0 157.2 L529.0 153.8 L528.0 151.3 L527.0 154.3 L526.0 154.8 L525.0 152.9 L524.0 152.6 L523.0 153.1 L522.0 155.2 L521.0 155.0 L520.0 155.6 L519.0 156.4 L518.0 152.6 L517.0 153.1 L516.0 153.4 L515.0 155.3 L514.0 156.9 L513.0 157.9 L512.0 155.5 L511.0 156.4 L510.0 154.3 L509.0 154.8 L508.0 153.6 L507.0 155.6 L506.0 154.5 L505.0 154.6 L504.0 156.3 L503.0 159.1 L502.0 157.7 L501.0 158.1 L500.0 156.1 L499.0 153.9 L498.0 154.1 L497.0 155.5 L496.0 154.4 L495.0 155.7 L494.0 155.0 L493.0 155.6 L492.0 155.8 L491.0 154.1 L490.0 152.7 L489.0 155.0 L488.0 155.0 L487.0 151.4 L486.0 151.0 L485.0 152.1 L484.0 149.7 L483.0 150.8 L482.0 152.6 L481.0 153.7 L480.0 153.3 L479.0 153.5 L478.0 152.9 L477.0 151.9 L476.0 151.0 L475.0 149.5 L474.0 151.3 L473.0 151.5 L472.0 155.5 L471.0 156.1 L470.0 155.5 L469.0 154.6 L468.0 153.4 L467.0 154.9 L466.0 154.1 L465.0 155.2 L464.0 154.5 L463.0 154.7 L462.0 153.4 L461.0 153.8 L460.0 155.9 L459.0 157.4 L458.0 155.7 L457.0 154.7 L456.0 153.1 L455.0 150.4 L454.0 150.7 L453.0 152.8 L452.0 152.4 L451.0 156.0 L450.0 154.1 L449.0 154.6 L448.0 152.0 L447.0 152.9 L446.0 154.1 L445.0 152.1 L444.0 153.5 L443.0 154.2 L442.0 154.6 L441.0 154.0 L440.0 152.4 L439.0 152.2 L438.0 154.3 L437.0 151.7 L436.0 152.2 L435.0 153.4 L434.0 154.1 L433.0 155.4 L432.0 152.5 L431.0 157.7 L430.0 155.3 L429.0 154.9 L428.0 155.4 L427.0 154.5 L426.0 152.1 L425.0 152.8 L424.0 154.7 L423.0 155.9 L422.0 157.8 L421.0 157.2 L420.0 156.6 L419.0 155.5 L418.0 155.0 L417.0 156.3 L416.0 157.6 L415.0 156.6 L414.0 154.8 L413.0 154.7 L412.0 154.2 L411.0 154.6 L410.0 154.7 L409.0 154.4 L408.0 154.1 L407.0 156.5 L406.0 155.8 L405.0 154.4 L404.0 156.4 L403.0 154.0 L402.0 155.2 L401.0 154.6 L400.0 152.3 L399.0 151.3 L398.0 151.5 L397.0 153.7 L396.0 155.3 L395.0 154.8 L394.0 156.0 L393.0 154.8 L392.0 153.4 L391.0 156.0 L390.0 155.3 L389.0 154.7 L388.0 153.9 L387.0 156.6 L386.0 157.0 L385.0 158.9 L384.0 157.7 L383.0 157.1 L382.0 155.8 L381.0 156.3 L380.0 156.3 L379.0 156.8 L378.0 158.8 L377.0 157.5 L376.0 156.8 L375.0 157.4 L374.0 155.4 L373.0 152.4 L372.0 153.5 L371.0 153.9 L370.0 157.2 L369.0 155.4 L368.0 156.3 L367.0 155.0 L366.0 152.9 L365.0 155.2 L364.0 155.2 L363.0 155.3 L362.0 152.1 L361.0 152.8 L360.0 152.5 L359.0 153.6 L358.0 158.8 L357.0 159.3 L356.0 153.9 L355.0 154.8 L354.0 151.9 L353.0 153.6 L352.0 154.2 L351.0 152.2 L350.0 155.2 L349.0 154.9 L348.0 154.0 L347.0 153.2 L346.0 151.3 L345.0 151.1 L344.0 152.4 L343.0 154.3 L342.0 155.2 L341.0 155.4 L340.0 155.5 L339.0 152.8 L338.0 153.9 L337.0 153.6 L336.0 152.7 L335.0 156.2 L334.0 156.3 L333.0 153.6 L332.0 154.3 L331.0 155.4 L330.0 157.5 L329.0 152.6 L328.0 151.3 L327.0 149.4 L326.0 150.3 L325.0 152.0 L324.0 153.5 L323.0 152.7 L322.0 154.7 L321.0 154.9 L320.0 153.5 L319.0 151.9 L318.0 149.5 L317.0 149.6 L316.0 149.4 L315.0 148.4 L314.0 148.9 L313.0 149.6 L312.0 150.6 L311.0 153.1 L310.0 153.2 L309.0 152.6 L308.0 157.7 L307.0 154.5 L306.0 153.7 L305.0 154.7 L304.0 156.0 L303.0 156.7 L302.0 156.3 L301.0 154.8 L300.0 154.4 L299.0 153.8 L298.0 153.0 L297.0 153.2 L296.0 152.0 L295.0 153.5 L294.0 156.5 L293.0 159.3 L292.0 154.0 L291.0 155.5 L290.0 156.0 L289.0 155.8 L288.0 155.4 L287.0 157.6 L286.0 158.5 L285.0 156.6 L284.0 154.6 L283.0 155.7 L282.0 155.4 L281.0 156.5 L280.0 157.6 L279.0 157.1 L278.0 155.7 L277.0 153.8 L276.0 155.0 L275.0 154.4 L274.0 155.8 L273.0 157.8 L272.0 156.5 L271.0 155.9 L270.0 154.0 L269.0 152.5 L268.0 153.5 L267.0 155.1 L266.0 153.7 L265.0 154.9 L264.0 156.1 L263.0 158.7 L262.0 159.8 L261.0 159.9 L260.0 158.5 L259.0 155.4 L258.0 156.0 L257.0 154.7 L256.0 155.7 L255.0 155.5 L254.0 154.5 L253.0 153.8 L252.0 158.3 L251.0 156.2 L250.0 157.1 L249.0 160.2 L248.0 157.3 L247.0 157.0 L246.0 155.1 L245.0 156.6 L244.0 157.3 L243.0 157.1 L242.0 155.9 L241.0 155.8 L240.0 157.2 L239.0 156.3 L238.0 154.7 L237.0 154.1 L236.0 152.4 L235.0 154.6 L234.0 157.8 L233.0 156.6 L232.0 155.7 L231.0 155.5 L230.0 155.0 L229.0 154.3 L228.0 157.0 L227.0 156.1 L226.0 155.1 L225.0 157.2 L224.0 155.0 L223.0 155.4 L222.0 155.0 L221.0 156.1 L220.0 154.1 L219.0 153.9 L218.0 154.3 L217.0 155.4 L216.0 155.7 L215.0 157.6 L214.0 156.4 L213.0 153.8 L212.0 152.5 L211.0 155.1 L210.0 154.3 L209.0 155.0 L208.0 155.1 L207.0 153.4 L206.0 154.2 L205.0 153.7 L204.0 154.6 L203.0 154.6 L202.0 154.2 L201.0 154.2 L200.0 154.9 L199.0 152.9 L198.0 155.5 L197.0 154.7 L196.0 153.6 L195.0 154.4 L194.0 153.1 L193.0 153.7 L192.0 151.2 L191.0 150.9 L190.0 151.6 L189.0 153.6 L188.0 153.4 L187.0 154.5 L186.0 153.2 L185.0 153.6 L184.0 151.8 L183.0 152.8 L182.0 150.2 L181.0 150.1 L180.0 151.1 L179.0 151.4 L178.0 153.5 L177.0 154.6 L176.0 152.3 L175.0 153.1 L174.0 151.0 L173.0 151.6 L172.0 151.2 L171.0 150.7 L170.0 149.8 L169.0 150.4 L168.0 151.7 L167.0 152.6 L166.0 151.5 L165.0 152.0 L164.0 152.3 L163.0 150.4 L162.0 151.5 L161.0 150.5 L160.0 150.2 L159.0 149.3 L158.0 147.8 L157.0 147.8 L156.0 148.7 L155.0 150.6 L154.0 151.1 L153.0 150.6 L152.0 151.1 L151.0 149.4 L150.0 150.3 L149.0 151.6 L148.0 152.9 L147.0 152.1 L146.0 150.3 L145.0 149.4 L144.0 149.4 L143.0 148.6 L142.0 149.7 L141.0 151.0 L140.0 151.1 L139.0 152.7 L138.0 150.9 L137.0 152.9 L136.0 152.5 L135.0 156.9 L134.0 154.5 L133.0 154.4 L132.0 151.2 L131.0 151.0 L130.0 147.9 L129.0 149.5 L128.0 149.3 L127.0 148.5 L126.0 151.0 L125.0 152.5 L124.0 153.2 L123.0 149.2 L122.0 150.6 L121.0 152.9 L120.0 153.6 L119.0 154.4 L118.0 154.1 L117.0 153.4 L116.0 152.4 L115.0 151.0 L114.0 152.7 L113.0 153.0 L112.0 152.8 L111.0 154.1 L110.0 153.5 L109.0 153.7 L108.0 155.3 L107.0 153.4 L106.0 153.1 L105.0 153.7 L104.0 152.9 L103.0 153.6 L102.0 153.6 L101.0 154.3 L100.0 154.7 L99.0 154.8 L98.0 153.7 L97.0 151.1 L96.0 151.6 L95.0 152.3 L94.0 152.7 L93.0 153.3 L92.0 152.1 L91.0 152.7 L90.0 153.3 L89.0 152.6 L88.0 153.8 L87.0 154.9 L86.0 159.1 L85.0 157.2 L84.0 155.7 L83.0 154.6 L82.0 154.2 L81.0 152.8 L80.0 152.8 L79.0 155.0 L78.0 154.3 L77.0 153.5 L76.0 154.4 L75.0 153.6 L74.0 150.6 L73.0 151.2 L72.0 152.7 L71.0 153.4 L70.0 153.2 L69.0 152.9 L68.0 149.6 L67.0 150.8 L66.0 151.9 L65.0 153.0 L64.0 151.3 L63.0 153.3 L62.0 153.8 L61.0 153.1 L60.0 150.8 L59.0 148.3 L58.0 148.5 L57.0 148.1 L56.0 151.2 L55.0 152.3 L54.0 150.1 L53.0 149.7 L52.0 151.0 L51.0 150.8 L50.0 151.5 L49.0 150.5 L48.0 149.4 L47.0 149.2 L46.0 150.2 L45.0 149.4 L44.0 148.7 L43.0 148.8 L42.0 147.9 L41.0 149.2 L40.0 149.1 L39.0 148.3 L38.0 147.5 L37.0 148.9 L36.0 150.1Z" fill="#ff6106" stroke="#ff6106" stroke-width="0.6" stroke-linejoin="round"/><path d="M65.1 150.0 L65.1 159.7M112.0 151.4 L112.0 156.0M150.2 148.5 L150.2 164.8M174.5 149.9 L174.5 164.8M193.0 151.9 L193.0 159.0M244.0 153.8 L244.0 160.8M277.8 154.7 L277.8 187.4M296.0 154.8 L296.0 160.8M379.5 153.0 L379.5 165.5M401.0 153.0 L401.0 173.6M447.7 152.1 L447.7 164.3M488.6 152.2 L488.6 160.8M540.6 154.2 L540.6 163.8M597.7 159.6 L597.7 179.8M644.0 158.7 L644.0 166.6M654.3 156.8 L654.3 174.7M710.5 154.5 L710.5 163.0M730.6 153.3 L730.6 178.6M764.2 151.8 L764.2 179.3M824.4 157.7 L824.4 175.4M841.0 158.0 L841.0 172.8" fill="none" stroke="#ff6106" stroke-width="2.3" stroke-linecap="round"/><path d="M795.7 167 L795.7 218.6 L850.7 218.6" fill="none" stroke="#000" stroke-width="5.2"/><text transform="translate(789.6 212.7) rotate(-90)" x="-0.35" y="0" font-size="14" font-weight="normal" fill="#000" textLength="36.08" lengthAdjust="spacingAndGlyphs" stroke="#000" stroke-width="0.4" stroke-linejoin="round">50 pA</text><text x="808.68" y="234.6" font-size="14" font-weight="normal" fill="#000" textLength="34.20" lengthAdjust="spacingAndGlyphs" stroke="#000" stroke-width="0.4" stroke-linejoin="round">2 sec</text><path d="M67.7 238.4 L67.7 497.9 L427 497.9" fill="none" stroke="#000" stroke-width="4.2"/><text x="33.34" y="504.1" font-size="22.2" font-weight="bold" fill="#000" textLength="30.25" lengthAdjust="spacingAndGlyphs" stroke="#000" stroke-width="0.4" stroke-linejoin="round">0.0</text><text x="33.34" y="452.5" font-size="22.2" font-weight="bold" fill="#000" textLength="30.23" lengthAdjust="spacingAndGlyphs" stroke="#000" stroke-width="0.4" stroke-linejoin="round">0.2</text><text x="33.36" y="401.0" font-size="22.2" font-weight="bold" fill="#000" textLength="29.45" lengthAdjust="spacingAndGlyphs" stroke="#000" stroke-width="0.4" stroke-linejoin="round">0.4</text><text x="33.34" y="349.4" font-size="22.2" font-weight="bold" fill="#000" textLength="30.14" lengthAdjust="spacingAndGlyphs" stroke="#000" stroke-width="0.4" stroke-linejoin="round">0.6</text><text x="33.35" y="297.9" font-size="22.2" font-weight="bold" fill="#000" textLength="30.02" lengthAdjust="spacingAndGlyphs" stroke="#000" stroke-width="0.4" stroke-linejoin="round">0.8</text><text x="32.80" y="246.3" font-size="22.2" font-weight="bold" fill="#000" textLength="30.80" lengthAdjust="spacingAndGlyphs" stroke="#000" stroke-width="0.4" stroke-linejoin="round">1.0</text><text transform="translate(23.7 475.9) rotate(-90)" x="-0.84" y="0" font-size="21.3" font-weight="normal" fill="#000" textLength="213.53" lengthAdjust="spacingAndGlyphs" stroke="#000" stroke-width="0.5" stroke-linejoin="round">Cumulative Probability</text><path d="M501.0 238.4 L501.0 497.9 L858.8 497.9" fill="none" stroke="#000" stroke-width="4.2"/><text x="466.25" y="504.1" font-size="22.2" font-weight="bold" fill="#000" textLength="30.04" lengthAdjust="spacingAndGlyphs" stroke="#000" stroke-width="0.4" stroke-linejoin="round">0.0</text><text x="466.25" y="452.5" font-size="22.2" font-weight="bold" fill="#000" textLength="30.02" lengthAdjust="spacingAndGlyphs" stroke="#000" stroke-width="0.4" stroke-linejoin="round">0.2</text><text x="466.27" y="401.0" font-size="22.2" font-weight="bold" fill="#000" textLength="29.25" lengthAdjust="spacingAndGlyphs" stroke="#000" stroke-width="0.4" stroke-linejoin="round">0.4</text><text x="466.25" y="349.4" font-size="22.2" font-weight="bold" fill="#000" textLength="29.93" lengthAdjust="spacingAndGlyphs" stroke="#000" stroke-width="0.4" stroke-linejoin="round">0.6</text><text x="466.25" y="297.9" font-size="22.2" font-weight="bold" fill="#000" textLength="29.81" lengthAdjust="spacingAndGlyphs" stroke="#000" stroke-width="0.4" stroke-linejoin="round">0.8</text><text x="465.71" y="246.3" font-size="22.2" font-weight="bold" fill="#000" textLength="30.59" lengthAdjust="spacingAndGlyphs" stroke="#000" stroke-width="0.4" stroke-linejoin="round">1.0</text><text transform="translate(457.0 475.9) rotate(-90)" x="-0.84" y="0" font-size="21.3" font-weight="normal" fill="#000" textLength="213.53" lengthAdjust="spacingAndGlyphs" stroke="#000" stroke-width="0.5" stroke-linejoin="round">Cumulative Probability</text><text x="53.81" y="522.6" font-size="22" font-weight="bold" fill="#000" textLength="27.81" lengthAdjust="spacingAndGlyphs" stroke="#000" stroke-width="0.4" stroke-linejoin="round">0.0</text><text x="143.52" y="522.6" font-size="22" font-weight="bold" fill="#000" textLength="27.22" lengthAdjust="spacingAndGlyphs" stroke="#000" stroke-width="0.4" stroke-linejoin="round">2.5</text><text x="233.00" y="522.6" font-size="22" font-weight="bold" fill="#000" textLength="27.10" lengthAdjust="spacingAndGlyphs" stroke="#000" stroke-width="0.4" stroke-linejoin="round">5.0</text><text x="324.26" y="522.6" font-size="22" font-weight="bold" fill="#000" textLength="27.29" lengthAdjust="spacingAndGlyphs" stroke="#000" stroke-width="0.4" stroke-linejoin="round">7.5</text><text x="394.63" y="522.6" font-size="22" font-weight="bold" fill="#000" textLength="36.24" lengthAdjust="spacingAndGlyphs" stroke="#000" stroke-width="0.4" stroke-linejoin="round">10.0</text><text x="497.20" y="522.6" font-size="22" font-weight="bold" fill="#000" textLength="21.18" lengthAdjust="spacingAndGlyphs" stroke="#000" stroke-width="0.4" stroke-linejoin="round">10</text><text x="585.55" y="522.6" font-size="22" font-weight="bold" fill="#000" textLength="20.71" lengthAdjust="spacingAndGlyphs" stroke="#000" stroke-width="0.4" stroke-linejoin="round">20</text><text x="673.55" y="522.6" font-size="22" font-weight="bold" fill="#000" textLength="21.64" lengthAdjust="spacingAndGlyphs" stroke="#000" stroke-width="0.4" stroke-linejoin="round">30</text><text x="759.21" y="522.6" font-size="22" font-weight="bold" fill="#000" textLength="21.27" lengthAdjust="spacingAndGlyphs" stroke="#000" stroke-width="0.4" stroke-linejoin="round">40</text><text x="842.63" y="522.6" font-size="22" font-weight="bold" fill="#000" textLength="20.63" lengthAdjust="spacingAndGlyphs" stroke="#000" stroke-width="0.4" stroke-linejoin="round">50</text><text x="84.95" y="546.4" font-size="21.2" font-weight="normal" fill="#f0686a" textLength="75.21" lengthAdjust="spacingAndGlyphs" stroke="#f0686a" stroke-width="0.3" stroke-linejoin="round">mEPSC</text><text x="166.65" y="546.3" font-size="21.7" font-weight="normal" fill="#000" textLength="228.15" lengthAdjust="spacingAndGlyphs" stroke="#000" stroke-width="0.7" stroke-linejoin="round">Interevent Interval (sec)</text><text x="545.26" y="546.1" font-size="21.2" font-weight="normal" fill="#f0686a" textLength="74.69" lengthAdjust="spacingAndGlyphs" stroke="#f0686a" stroke-width="0.3" stroke-linejoin="round">mEPSC</text><text x="626.79" y="546.1" font-size="21.7" font-weight="normal" fill="#000" textLength="196.38" lengthAdjust="spacingAndGlyphs" stroke="#000" stroke-width="0.7" stroke-linejoin="round">Peak Amplitude (pA)</text><text x="-1.86" y="251.3" font-size="43.8" font-weight="normal" fill="#000" textLength="28.57" lengthAdjust="spacingAndGlyphs" stroke="#000" stroke-width="0.9" stroke-linejoin="round">B</text><text x="433.90" y="251.6" font-size="44" font-weight="normal" fill="#000" textLength="30.56" lengthAdjust="spacingAndGlyphs" stroke="#000" stroke-width="0.9" stroke-linejoin="round">C</text><line x1="68.8" y1="370.7" x2="246.0" y2="370.7" stroke="#000" stroke-width="2.9" stroke-linecap="round" stroke-dasharray="2 5.375"/><line x1="500.9" y1="370.7" x2="677.85" y2="370.7" stroke="#000" stroke-width="2.9" stroke-linecap="round" stroke-dasharray="2 5.375"/><path d="M69.1 491.6 L69.3 490.6 L69.5 489.7 L69.7 488.7 L69.9 487.8 L70.0 486.8 L70.2 485.8 L70.4 484.9 L70.6 483.9 L70.8 482.9 L71.0 482.0 L71.1 481.0 L71.3 480.0 L71.5 479.1 L71.7 478.1 L71.9 477.2 L72.1 476.2 L72.3 475.2 L72.5 474.3 L72.7 473.3 L72.9 472.3 L73.1 471.4 L73.3 470.4 L73.5 469.4 L73.7 468.5 L73.9 467.5 L74.1 466.5 L74.3 465.6 L74.5 464.6 L74.7 463.6 L74.9 462.6 L75.2 461.7 L75.4 460.7 L75.6 459.7 L75.8 458.8 L76.0 457.8 L76.2 456.8 L76.5 455.9 L76.7 454.9 L76.9 453.9 L77.1 453.0 L77.4 452.0 L77.6 451.0 L77.8 450.0 L78.1 449.1 L78.3 448.1 L78.5 447.1 L78.8 446.2 L79.0 445.2 L79.2 444.2 L79.5 443.3 L79.7 442.3 L80.0 441.3 L80.2 440.4 L80.5 439.4 L80.7 438.4 L81.0 437.4 L81.2 436.5 L81.5 435.5 L81.7 434.5 L82.0 433.6 L82.3 432.6 L82.5 431.6 L82.8 430.7 L83.1 429.7 L83.3 428.7 L83.6 427.8 L83.9 426.8 L84.1 425.8 L84.4 424.9 L84.7 423.9 L85.0 422.9 L85.3 422.0 L85.5 421.0 L85.8 420.0 L86.1 419.1 L86.4 418.1 L86.7 417.1 L87.0 416.2 L87.3 415.2 L87.6 414.3 L87.9 413.3 L88.2 412.3 L88.5 411.4 L88.8 410.4 L89.1 409.4 L89.4 408.5 L89.7 407.5 L90.0 406.6 L90.4 405.6 L90.7 404.6 L91.0 403.7 L91.3 402.7 L91.7 401.8 L92.0 400.8 L92.3 399.8 L92.7 398.9 L93.0 397.9 L93.3 397.0 L93.7 396.0 L94.0 395.1 L94.4 394.1 L94.7 393.2 L95.1 392.2 L95.4 391.3 L95.8 390.3 L96.1 389.4 L96.5 388.4 L96.8 387.5 L97.2 386.5 L97.6 385.6 L97.9 384.6 L98.3 383.7 L98.7 382.7 L99.1 381.8 L99.4 380.8 L99.8 379.9 L100.2 379.0 L100.6 378.0 L101.0 377.1 L101.4 376.1 L101.8 375.2 L102.2 374.3 L102.6 373.3 L103.0 372.4 L103.4 371.5 L103.8 370.5 L104.2 369.6 L104.6 368.7 L105.1 367.7 L105.5 366.8 L105.9 365.9 L106.3 365.0 L106.8 364.1 L107.2 363.1 L107.6 362.2 L108.1 361.3 L108.5 360.4 L109.0 359.5 L109.4 358.6 L109.9 357.7 L110.3 356.8 L110.8 355.9 L111.2 355.0 L111.7 354.1 L112.2 353.2 L112.6 352.3 L113.1 351.4 L113.6 350.5 L114.1 349.6 L114.5 348.7 L115.0 347.8 L115.5 347.0 L116.0 346.1 L116.5 345.2 L117.0 344.3 L117.5 343.5 L118.0 342.6 L118.5 341.7 L119.0 340.9 L119.6 340.0 L120.1 339.1 L120.6 338.3 L121.1 337.4 L121.7 336.6 L122.2 335.7 L122.7 334.9 L123.3 334.1 L123.8 333.2 L124.4 332.4 L124.9 331.6 L125.5 330.7 L126.0 329.9 L126.6 329.1 L127.2 328.3 L127.7 327.5 L128.3 326.6 L128.9 325.8 L129.5 325.0 L130.1 324.2 L130.6 323.4 L131.2 322.6 L131.8 321.8 L132.4 321.1 L133.0 320.3 L133.6 319.5 L134.3 318.7 L134.9 317.9 L135.5 317.2 L136.1 316.4 L136.8 315.7 L137.4 314.9 L138.0 314.1 L138.7 313.4 L139.3 312.7 L140.0 311.9 L140.6 311.2 L141.3 310.5 L141.9 309.7 L142.6 309.0 L143.3 308.3 L143.9 307.6 L144.6 306.9 L145.3 306.2 L146.0 305.4 L146.7 304.8 L147.4 304.1 L148.1 303.4 L148.8 302.7 L149.5 302.0 L150.2 301.3 L150.9 300.7 L151.6 300.0 L152.4 299.3 L153.1 298.7 L153.8 298.0 L154.6 297.4 L155.3 296.8 L156.0 296.1 L156.8 295.5 L157.6 294.9 L158.3 294.3 L159.1 293.6 L159.9 293.0 L160.6 292.4 L161.4 291.8 L162.2 291.2 L163.0 290.6 L163.8 290.1 L164.6 289.5 L165.4 288.9 L166.2 288.3 L167.0 287.8 L167.8 287.2 L168.6 286.6 L169.4 286.1 L170.2 285.5 L171.1 285.0 L171.9 284.5 L172.7 283.9 L173.6 283.4 L174.4 282.9 L175.2 282.4 L176.1 281.9 L176.9 281.3 L177.8 280.8 L178.7 280.3 L179.5 279.8 L180.4 279.4 L181.2 278.9 L182.1 278.4 L183.0 277.9 L183.9 277.4 L184.7 277.0 L185.6 276.5 L186.5 276.0 L187.4 275.6 L188.3 275.1 L189.2 274.7 L190.1 274.2 L191.0 273.8 L191.9 273.4 L192.8 272.9 L193.7 272.5 L194.6 272.1 L195.5 271.7 L196.4 271.3 L197.3 270.8 L198.3 270.4 L199.2 270.0 L200.1 269.6 L201.0 269.2 L202.0 268.9 L202.9 268.5 L203.8 268.1 L204.8 267.7 L205.7 267.3 L206.6 267.0 L207.6 266.6 L208.5 266.2 L209.5 265.9 L210.4 265.5 L211.3 265.2 L212.3 264.8 L213.2 264.5 L214.2 264.2 L215.1 263.8 L216.1 263.5 L217.1 263.2 L218.0 262.8 L219.0 262.5 L219.9 262.2 L220.9 261.9 L221.8 261.6 L222.8 261.3 L223.8 261.0 L224.7 260.7 L225.7 260.4 L226.7 260.1 L227.6 259.8 L228.6 259.5 L229.6 259.2 L230.5 258.9 L231.5 258.7 L232.5 258.4 L233.5 258.1 L234.4 257.9 L235.4 257.6 L236.4 257.3 L237.4 257.1 L238.3 256.8 L239.3 256.6 L240.3 256.3 L241.3 256.1 L242.2 255.9 L243.2 255.6 L244.2 255.4 L245.2 255.2 L246.2 254.9 L247.1 254.7 L248.1 254.5 L249.1 254.3 L250.1 254.1 L251.1 253.9 L252.1 253.6 L253.0 253.4 L254.0 253.2 L255.0 253.0 L256.0 252.8 L257.0 252.6 L258.0 252.4 L259.0 252.3 L260.0 252.1 L260.9 251.9 L261.9 251.7 L262.9 251.5 L263.9 251.4 L264.9 251.2 L265.9 251.0 L266.9 250.8 L267.9 250.7 L268.9 250.5 L269.9 250.4 L270.9 250.2 L271.9 250.0 L272.8 249.9 L273.8 249.7 L274.8 249.6 L275.8 249.4 L276.8 249.3 L277.8 249.2 L278.8 249.0 L279.8 248.9 L280.8 248.7 L281.8 248.6 L282.8 248.5 L283.8 248.4 L284.8 248.2 L285.8 248.1 L286.8 248.0 L287.8 247.9 L288.8 247.7 L289.8 247.6 L290.8 247.5 L291.8 247.4 L292.8 247.3 L293.8 247.2 L294.8 247.1 L295.8 247.0 L296.8 246.9 L297.8 246.8 L298.8 246.7 L299.8 246.6 L300.8 246.5 L301.9 246.4 L302.9 246.3 L303.9 246.2 L304.9 246.1 L305.9 246.0 L306.9 245.9 L307.9 245.8 L308.9 245.8 L309.9 245.7 L310.9 245.6 L311.9 245.5 L312.9 245.4 L313.9 245.4 L314.9 245.3 L315.9 245.2 L316.9 245.2 L317.9 245.1 L318.9 245.0 L320.0 244.9 L321.0 244.9 L322.0 244.8 L323.0 244.8 L324.0 244.7 L325.0 244.6 L326.0 244.6 L327.0 244.5 L328.0 244.5 L329.0 244.4 L330.0 244.3 L331.0 244.3 L332.0 244.2 L333.0 244.2 L334.1 244.1 L335.1 244.1 L336.1 244.0 L337.1 244.0 L338.1 243.9 L339.1 243.9 L340.1 243.8 L341.1 243.8 L342.1 243.7 L343.1 243.7 L344.1 243.7 L345.1 243.6 L346.1 243.6 L347.1 243.5 L348.2 243.5 L349.2 243.4 L350.2 243.4 L351.2 243.4 L352.2 243.3 L353.2 243.3 L354.2 243.3 L355.2 243.2 L356.2 243.2 L357.2 243.1 L358.2 243.1 L359.2 243.1 L360.2 243.0 L361.2 243.0 L362.2 243.0 L363.2 242.9 L364.2 242.9 L365.2 242.9 L366.2 242.8 L367.2 242.8 L368.3 242.8 L369.3 242.7 L370.3 242.7 L371.3 242.7 L372.3 242.6 L373.3 242.6 L374.3 242.6 L375.3 242.5 L376.3 242.5 L377.3 242.5 L378.3 242.4 L379.3 242.4 L380.3 242.4 L381.3 242.3 L382.3 242.3 L383.3 242.3 L384.3 242.2 L385.3 242.2 L386.3 242.1 L387.3 242.1 L388.2 242.1 L389.2 242.0 L390.2 242.0 L391.2 242.0 L392.2 241.9 L393.2 241.9 L394.2 241.9 L395.2 241.8 L396.2 241.8 L397.2 241.7 L398.2 241.7 L399.2 241.7 L400.2 241.6 L401.2 241.6 L402.2 241.5 L403.1 241.5 L404.1 241.4 L405.1 241.4 L406.1 241.3 L407.1 241.3 L408.1 241.3 L409.1 241.2 L410.1 241.2 L411.0 241.1 L412.0 241.1 L413.0 241.0 L414.0 240.9 L415.0 240.9 L416.0 240.8 L416.9 240.8 L417.9 240.7 L418.9 240.7 L419.9 240.6 L420.9 240.5 L421.8 240.5 L422.8 240.4 L423.8 240.4 L424.8 240.3 L425.7 240.2 L426.7 240.2" fill="none" stroke="#ff6106" stroke-width="4.6"/><path d="M70.3 491.8 L70.4 490.9 L70.6 489.9 L70.8 489.0 L71.0 488.1 L71.1 487.2 L71.3 486.3 L71.5 485.3 L71.7 484.4 L71.9 483.5 L72.1 482.6 L72.3 481.6 L72.5 480.7 L72.7 479.8 L72.9 478.8 L73.1 477.9 L73.3 477.0 L73.5 476.1 L73.7 475.1 L73.9 474.2 L74.1 473.3 L74.3 472.3 L74.5 471.4 L74.7 470.5 L75.0 469.5 L75.2 468.6 L75.4 467.7 L75.6 466.7 L75.9 465.8 L76.1 464.9 L76.3 463.9 L76.6 463.0 L76.8 462.0 L77.0 461.1 L77.3 460.2 L77.5 459.2 L77.8 458.3 L78.0 457.4 L78.3 456.4 L78.5 455.5 L78.8 454.6 L79.1 453.6 L79.3 452.7 L79.6 451.7 L79.9 450.8 L80.1 449.9 L80.4 448.9 L80.7 448.0 L80.9 447.1 L81.2 446.1 L81.5 445.2 L81.8 444.2 L82.1 443.3 L82.4 442.4 L82.6 441.4 L82.9 440.5 L83.2 439.6 L83.5 438.6 L83.8 437.7 L84.1 436.8 L84.4 435.8 L84.7 434.9 L85.1 434.0 L85.4 433.0 L85.7 432.1 L86.0 431.2 L86.3 430.2 L86.6 429.3 L87.0 428.4 L87.3 427.4 L87.6 426.5 L88.0 425.6 L88.3 424.6 L88.6 423.7 L89.0 422.8 L89.3 421.9 L89.6 420.9 L90.0 420.0 L90.3 419.1 L90.7 418.2 L91.0 417.2 L91.4 416.3 L91.8 415.4 L92.1 414.5 L92.5 413.6 L92.9 412.6 L93.2 411.7 L93.6 410.8 L94.0 409.9 L94.3 409.0 L94.7 408.1 L95.1 407.1 L95.5 406.2 L95.9 405.3 L96.3 404.4 L96.7 403.5 L97.0 402.6 L97.4 401.7 L97.8 400.8 L98.2 399.9 L98.6 399.0 L99.1 398.1 L99.5 397.2 L99.9 396.3 L100.3 395.4 L100.7 394.5 L101.1 393.6 L101.5 392.7 L102.0 391.8 L102.4 390.9 L102.8 390.0 L103.3 389.1 L103.7 388.2 L104.1 387.4 L104.6 386.5 L105.0 385.6 L105.5 384.7 L105.9 383.8 L106.4 383.0 L106.8 382.1 L107.3 381.2 L107.7 380.3 L108.2 379.5 L108.7 378.6 L109.1 377.7 L109.6 376.9 L110.1 376.0 L110.5 375.1 L111.0 374.3 L111.5 373.4 L112.0 372.6 L112.5 371.7 L113.0 370.9 L113.4 370.0 L113.9 369.2 L114.4 368.3 L114.9 367.5 L115.4 366.6 L115.9 365.8 L116.4 364.9 L117.0 364.1 L117.5 363.3 L118.0 362.4 L118.5 361.6 L119.0 360.8 L119.5 360.0 L120.1 359.1 L120.6 358.3 L121.1 357.5 L121.7 356.7 L122.2 355.9 L122.7 355.0 L123.3 354.2 L123.8 353.4 L124.4 352.6 L124.9 351.8 L125.5 351.0 L126.0 350.2 L126.6 349.4 L127.2 348.6 L127.7 347.8 L128.3 347.1 L128.9 346.3 L129.4 345.5 L130.0 344.7 L130.6 343.9 L131.2 343.2 L131.8 342.4 L132.3 341.6 L132.9 340.8 L133.5 340.1 L134.1 339.3 L134.7 338.6 L135.3 337.8 L135.9 337.1 L136.5 336.3 L137.1 335.6 L137.8 334.8 L138.4 334.1 L139.0 333.3 L139.6 332.6 L140.2 331.9 L140.9 331.1 L141.5 330.4 L142.1 329.7 L142.8 329.0 L143.4 328.2 L144.0 327.5 L144.7 326.8 L145.3 326.1 L146.0 325.4 L146.6 324.7 L147.3 324.0 L148.0 323.3 L148.6 322.6 L149.3 321.9 L150.0 321.2 L150.6 320.6 L151.3 319.9 L152.0 319.2 L152.7 318.5 L153.3 317.9 L154.0 317.2 L154.7 316.5 L155.4 315.9 L156.1 315.2 L156.8 314.6 L157.5 313.9 L158.2 313.3 L158.9 312.6 L159.6 312.0 L160.3 311.4 L161.0 310.7 L161.8 310.1 L162.5 309.5 L163.2 308.9 L163.9 308.2 L164.7 307.6 L165.4 307.0 L166.1 306.4 L166.9 305.8 L167.6 305.2 L168.4 304.6 L169.1 304.0 L169.9 303.5 L170.6 302.9 L171.4 302.3 L172.1 301.7 L172.9 301.2 L173.7 300.6 L174.4 300.0 L175.2 299.5 L176.0 298.9 L176.8 298.4 L177.6 297.8 L178.3 297.3 L179.1 296.7 L179.9 296.2 L180.7 295.7 L181.5 295.2 L182.3 294.6 L183.1 294.1 L183.9 293.6 L184.7 293.1 L185.6 292.6 L186.4 292.1 L187.2 291.6 L188.0 291.1 L188.8 290.6 L189.7 290.1 L190.5 289.7 L191.3 289.2 L192.2 288.7 L193.0 288.3 L193.8 287.8 L194.7 287.3 L195.5 286.9 L196.4 286.4 L197.2 286.0 L198.1 285.5 L198.9 285.1 L199.8 284.6 L200.7 284.2 L201.5 283.8 L202.4 283.4 L203.3 282.9 L204.1 282.5 L205.0 282.1 L205.9 281.7 L206.8 281.3 L207.6 280.9 L208.5 280.5 L209.4 280.1 L210.3 279.7 L211.2 279.3 L212.1 278.9 L213.0 278.5 L213.8 278.1 L214.7 277.8 L215.6 277.4 L216.5 277.0 L217.4 276.6 L218.3 276.3 L219.3 275.9 L220.2 275.6 L221.1 275.2 L222.0 274.9 L222.9 274.5 L223.8 274.2 L224.7 273.8 L225.6 273.5 L226.6 273.1 L227.5 272.8 L228.4 272.5 L229.3 272.2 L230.3 271.8 L231.2 271.5 L232.1 271.2 L233.0 270.9 L234.0 270.6 L234.9 270.3 L235.8 269.9 L236.8 269.6 L237.7 269.3 L238.7 269.0 L239.6 268.8 L240.5 268.5 L241.5 268.2 L242.4 267.9 L243.4 267.6 L244.3 267.3 L245.3 267.0 L246.2 266.8 L247.2 266.5 L248.1 266.2 L249.0 265.9 L250.0 265.7 L251.0 265.4 L251.9 265.2 L252.9 264.9 L253.8 264.6 L254.8 264.4 L255.7 264.1 L256.7 263.9 L257.6 263.6 L258.6 263.4 L259.6 263.2 L260.5 262.9 L261.5 262.7 L262.4 262.4 L263.4 262.2 L264.4 262.0 L265.3 261.7 L266.3 261.5 L267.2 261.3 L268.2 261.1 L269.2 260.9 L270.1 260.6 L271.1 260.4 L272.1 260.2 L273.0 260.0 L274.0 259.8 L275.0 259.6 L275.9 259.4 L276.9 259.2 L277.8 259.0 L278.8 258.8 L279.8 258.6 L280.7 258.4 L281.7 258.2 L282.7 258.0 L283.6 257.8 L284.6 257.6 L285.6 257.4 L286.5 257.2 L287.5 257.1 L288.5 256.9 L289.5 256.7 L290.4 256.5 L291.4 256.3 L292.4 256.2 L293.3 256.0 L294.3 255.8 L295.3 255.7 L296.2 255.5 L297.2 255.3 L298.2 255.2 L299.1 255.0 L300.1 254.8 L301.1 254.7 L302.0 254.5 L303.0 254.4 L304.0 254.2 L305.0 254.1 L305.9 253.9 L306.9 253.8 L307.9 253.6 L308.8 253.5 L309.8 253.3 L310.8 253.2 L311.8 253.0 L312.7 252.9 L313.7 252.8 L314.7 252.6 L315.6 252.5 L316.6 252.4 L317.6 252.2 L318.5 252.1 L319.5 252.0 L320.5 251.8 L321.5 251.7 L322.4 251.6 L323.4 251.5 L324.4 251.3 L325.3 251.2 L326.3 251.1 L327.3 251.0 L328.3 250.9 L329.2 250.7 L330.2 250.6 L331.2 250.5 L332.1 250.4 L333.1 250.3 L334.1 250.2 L335.1 250.1 L336.0 250.0 L337.0 249.9 L338.0 249.8 L338.9 249.7 L339.9 249.6 L340.9 249.5 L341.9 249.4 L342.8 249.3 L343.8 249.2 L344.8 249.1 L345.7 249.0 L346.7 248.9 L347.7 248.8 L348.7 248.7 L349.6 248.6 L350.6 248.5 L351.6 248.4 L352.5 248.3 L353.5 248.2 L354.5 248.2 L355.4 248.1 L356.4 248.0 L357.4 247.9 L358.4 247.8 L359.3 247.7 L360.3 247.7 L361.3 247.6 L362.2 247.5 L363.2 247.4 L364.2 247.4 L365.1 247.3 L366.1 247.2 L367.1 247.1 L368.0 247.1 L369.0 247.0 L370.0 246.9 L370.9 246.8 L371.9 246.8 L372.9 246.7 L373.8 246.6 L374.8 246.6 L375.8 246.5 L376.7 246.4 L377.7 246.4 L378.7 246.3 L379.6 246.2 L380.6 246.2 L381.6 246.1 L382.5 246.0 L383.5 246.0 L384.5 245.9 L385.4 245.9 L386.4 245.8 L387.4 245.7 L388.3 245.7 L389.3 245.6 L390.3 245.6 L391.2 245.5 L392.2 245.5 L393.1 245.4 L394.1 245.3 L395.1 245.3 L396.0 245.2 L397.0 245.2 L397.9 245.1 L398.9 245.1 L399.9 245.0 L400.8 245.0 L401.8 244.9 L402.7 244.9 L403.7 244.8 L404.7 244.8 L405.6 244.7 L406.6 244.7 L407.5 244.6 L408.5 244.6 L409.5 244.5 L410.4 244.5 L411.4 244.4 L412.3 244.4 L413.3 244.3 L414.2 244.3 L415.2 244.2 L416.1 244.2 L417.1 244.1 L418.1 244.1 L419.0 244.0 L420.0 244.0 L420.9 243.9 L421.9 243.9 L422.8 243.8 L423.8 243.8 L424.7 243.7 L425.7 243.7 L426.6 243.7" fill="none" stroke="#1099b4" stroke-width="4.6"/><path d="M507.3 492.6 L507.5 491.7 L507.8 490.8 L508.0 489.9 L508.3 489.0 L508.5 488.1 L508.8 487.2 L509.0 486.3 L509.3 485.4 L509.5 484.6 L509.8 483.7 L510.0 482.8 L510.3 481.9 L510.5 481.0 L510.8 480.1 L511.0 479.2 L511.3 478.3 L511.5 477.4 L511.8 476.5 L512.0 475.6 L512.3 474.7 L512.5 473.8 L512.8 472.9 L513.0 472.0 L513.3 471.1 L513.5 470.2 L513.8 469.3 L514.1 468.4 L514.3 467.5 L514.6 466.6 L514.8 465.7 L515.1 464.8 L515.3 463.9 L515.6 463.0 L515.9 462.1 L516.1 461.2 L516.4 460.3 L516.6 459.4 L516.9 458.5 L517.1 457.6 L517.4 456.7 L517.7 455.8 L517.9 454.9 L518.2 454.0 L518.5 453.1 L518.7 452.2 L519.0 451.3 L519.3 450.4 L519.5 449.5 L519.8 448.6 L520.1 447.7 L520.3 446.8 L520.6 445.9 L520.9 445.0 L521.1 444.1 L521.4 443.2 L521.7 442.2 L521.9 441.3 L522.2 440.4 L522.5 439.5 L522.8 438.6 L523.1 437.7 L523.3 436.8 L523.6 435.9 L523.9 435.0 L524.2 434.1 L524.4 433.2 L524.7 432.3 L525.0 431.4 L525.3 430.5 L525.6 429.6 L525.9 428.7 L526.2 427.8 L526.4 426.9 L526.7 426.0 L527.0 425.1 L527.3 424.2 L527.6 423.3 L527.9 422.4 L528.2 421.5 L528.5 420.6 L528.8 419.6 L529.1 418.7 L529.4 417.8 L529.7 416.9 L530.0 416.0 L530.3 415.1 L530.6 414.2 L530.9 413.3 L531.2 412.4 L531.6 411.5 L531.9 410.6 L532.2 409.7 L532.5 408.8 L532.8 407.9 L533.1 407.0 L533.5 406.1 L533.8 405.2 L534.1 404.4 L534.4 403.5 L534.7 402.6 L535.1 401.7 L535.4 400.8 L535.7 399.9 L536.1 399.0 L536.4 398.1 L536.7 397.2 L537.1 396.3 L537.4 395.4 L537.8 394.5 L538.1 393.6 L538.4 392.7 L538.8 391.8 L539.1 390.9 L539.5 390.1 L539.8 389.2 L540.2 388.3 L540.5 387.4 L540.9 386.5 L541.3 385.6 L541.6 384.7 L542.0 383.8 L542.4 383.0 L542.7 382.1 L543.1 381.2 L543.5 380.3 L543.8 379.4 L544.2 378.5 L544.6 377.7 L545.0 376.8 L545.3 375.9 L545.7 375.0 L546.1 374.1 L546.5 373.3 L546.9 372.4 L547.3 371.5 L547.7 370.6 L548.1 369.7 L548.5 368.9 L548.9 368.0 L549.3 367.1 L549.7 366.3 L550.1 365.4 L550.5 364.5 L550.9 363.6 L551.3 362.8 L551.7 361.9 L552.2 361.1 L552.6 360.2 L553.0 359.3 L553.4 358.5 L553.9 357.6 L554.3 356.7 L554.7 355.9 L555.2 355.0 L555.6 354.2 L556.1 353.3 L556.5 352.5 L557.0 351.6 L557.4 350.8 L557.9 350.0 L558.3 349.1 L558.8 348.3 L559.3 347.4 L559.7 346.6 L560.2 345.8 L560.7 344.9 L561.1 344.1 L561.6 343.3 L562.1 342.5 L562.6 341.6 L563.1 340.8 L563.6 340.0 L564.1 339.2 L564.6 338.4 L565.1 337.6 L565.6 336.8 L566.1 336.0 L566.6 335.2 L567.1 334.4 L567.6 333.6 L568.1 332.8 L568.7 332.0 L569.2 331.3 L569.7 330.5 L570.3 329.7 L570.8 328.9 L571.3 328.2 L571.9 327.4 L572.4 326.6 L573.0 325.9 L573.5 325.1 L574.1 324.4 L574.7 323.6 L575.2 322.9 L575.8 322.2 L576.4 321.4 L577.0 320.7 L577.5 320.0 L578.1 319.3 L578.7 318.5 L579.3 317.8 L579.9 317.1 L580.5 316.4 L581.1 315.7 L581.8 315.0 L582.4 314.3 L583.0 313.7 L583.6 313.0 L584.2 312.3 L584.9 311.6 L585.5 311.0 L586.2 310.3 L586.8 309.7 L587.5 309.0 L588.1 308.4 L588.8 307.7 L589.4 307.1 L590.1 306.4 L590.8 305.8 L591.5 305.2 L592.1 304.6 L592.8 304.0 L593.5 303.4 L594.2 302.8 L594.9 302.2 L595.6 301.6 L596.3 301.0 L597.0 300.4 L597.8 299.9 L598.5 299.3 L599.2 298.8 L599.9 298.2 L600.7 297.6 L601.4 297.1 L602.1 296.6 L602.9 296.0 L603.6 295.5 L604.4 295.0 L605.2 294.4 L605.9 293.9 L606.7 293.4 L607.5 292.9 L608.2 292.4 L609.0 291.9 L609.8 291.4 L610.6 290.9 L611.4 290.5 L612.1 290.0 L612.9 289.5 L613.7 289.0 L614.5 288.6 L615.3 288.1 L616.2 287.6 L617.0 287.2 L617.8 286.8 L618.6 286.3 L619.4 285.9 L620.2 285.4 L621.1 285.0 L621.9 284.6 L622.7 284.2 L623.6 283.7 L624.4 283.3 L625.2 282.9 L626.1 282.5 L626.9 282.1 L627.8 281.7 L628.6 281.3 L629.5 280.9 L630.3 280.5 L631.2 280.2 L632.1 279.8 L632.9 279.4 L633.8 279.0 L634.7 278.7 L635.5 278.3 L636.4 277.9 L637.3 277.6 L638.2 277.2 L639.1 276.9 L639.9 276.5 L640.8 276.2 L641.7 275.9 L642.6 275.5 L643.5 275.2 L644.4 274.9 L645.3 274.5 L646.2 274.2 L647.1 273.9 L648.0 273.6 L648.9 273.3 L649.8 273.0 L650.7 272.7 L651.6 272.3 L652.5 272.0 L653.4 271.7 L654.3 271.5 L655.3 271.2 L656.2 270.9 L657.1 270.6 L658.0 270.3 L658.9 270.0 L659.8 269.8 L660.8 269.5 L661.7 269.2 L662.6 268.9 L663.5 268.7 L664.5 268.4 L665.4 268.1 L666.3 267.9 L667.3 267.6 L668.2 267.4 L669.1 267.1 L670.1 266.9 L671.0 266.6 L671.9 266.4 L672.9 266.1 L673.8 265.9 L674.7 265.7 L675.7 265.4 L676.6 265.2 L677.5 265.0 L678.5 264.7 L679.4 264.5 L680.4 264.3 L681.3 264.1 L682.2 263.9 L683.2 263.6 L684.1 263.4 L685.1 263.2 L686.0 263.0 L686.9 262.8 L687.9 262.6 L688.8 262.4 L689.8 262.2 L690.7 262.0 L691.6 261.8 L692.6 261.6 L693.5 261.4 L694.5 261.2 L695.4 261.0 L696.3 260.8 L697.3 260.6 L698.2 260.4 L699.2 260.2 L700.1 260.0 L701.0 259.8 L702.0 259.6 L702.9 259.5 L703.9 259.3 L704.8 259.1 L705.7 258.9 L706.7 258.7 L707.6 258.6 L708.6 258.4 L709.5 258.2 L710.4 258.1 L711.4 257.9 L712.3 257.7 L713.2 257.6 L714.2 257.4 L715.1 257.2 L716.1 257.1 L717.0 256.9 L717.9 256.8 L718.9 256.6 L719.8 256.4 L720.8 256.3 L721.7 256.1 L722.6 256.0 L723.6 255.8 L724.5 255.7 L725.5 255.5 L726.4 255.4 L727.3 255.3 L728.3 255.1 L729.2 255.0 L730.1 254.8 L731.1 254.7 L732.0 254.6 L733.0 254.4 L733.9 254.3 L734.8 254.2 L735.8 254.0 L736.7 253.9 L737.7 253.8 L738.6 253.6 L739.5 253.5 L740.5 253.4 L741.4 253.3 L742.4 253.1 L743.3 253.0 L744.2 252.9 L745.2 252.8 L746.1 252.7 L747.0 252.6 L748.0 252.4 L748.9 252.3 L749.9 252.2 L750.8 252.1 L751.7 252.0 L752.7 251.9 L753.6 251.8 L754.6 251.7 L755.5 251.6 L756.4 251.5 L757.4 251.4 L758.3 251.3 L759.2 251.2 L760.2 251.1 L761.1 251.0 L762.1 250.9 L763.0 250.8 L763.9 250.7 L764.9 250.6 L765.8 250.5 L766.8 250.4 L767.7 250.3 L768.6 250.2 L769.6 250.1 L770.5 250.0 L771.4 249.9 L772.4 249.9 L773.3 249.8 L774.3 249.7 L775.2 249.6 L776.1 249.5 L777.1 249.4 L778.0 249.4 L779.0 249.3 L779.9 249.2 L780.8 249.1 L781.8 249.0 L782.7 249.0 L783.7 248.9 L784.6 248.8 L785.5 248.8 L786.5 248.7 L787.4 248.6 L788.4 248.5 L789.3 248.5 L790.2 248.4 L791.2 248.3 L792.1 248.3 L793.0 248.2 L794.0 248.1 L794.9 248.1 L795.9 248.0 L796.8 247.9 L797.7 247.9 L798.7 247.8 L799.6 247.8 L800.6 247.7 L801.5 247.6 L802.4 247.6 L803.4 247.5 L804.3 247.5 L805.3 247.4 L806.2 247.4 L807.1 247.3 L808.1 247.3 L809.0 247.2 L810.0 247.2 L810.9 247.1 L811.9 247.1 L812.8 247.0 L813.7 247.0 L814.7 246.9 L815.6 246.9 L816.6 246.8 L817.5 246.8 L818.4 246.7 L819.4 246.7 L820.3 246.6 L821.3 246.6 L822.2 246.5 L823.1 246.5 L824.1 246.5 L825.0 246.4 L826.0 246.4 L826.9 246.3 L827.9 246.3 L828.8 246.2 L829.7 246.2 L830.7 246.2 L831.6 246.1 L832.6 246.1 L833.5 246.1 L834.4 246.0 L835.4 246.0 L836.3 245.9 L837.3 245.9 L838.2 245.9 L839.2 245.8 L840.1 245.8 L841.0 245.8 L842.0 245.7 L842.9 245.7 L843.9 245.7" fill="none" stroke="#ff6106" stroke-width="4.6"/><path d="M508.3 495.6 L508.7 494.7 L509.1 493.8 L509.5 492.9 L509.8 492.0 L510.2 491.1 L510.6 490.2 L511.0 489.4 L511.3 488.5 L511.7 487.6 L512.1 486.7 L512.4 485.8 L512.8 484.9 L513.2 484.0 L513.5 483.1 L513.9 482.2 L514.2 481.3 L514.6 480.4 L515.0 479.5 L515.3 478.6 L515.7 477.7 L516.0 476.8 L516.4 475.9 L516.7 475.0 L517.0 474.1 L517.4 473.2 L517.7 472.3 L518.1 471.4 L518.4 470.5 L518.7 469.6 L519.1 468.7 L519.4 467.8 L519.7 466.9 L520.1 466.0 L520.4 465.1 L520.7 464.2 L521.1 463.2 L521.4 462.3 L521.7 461.4 L522.1 460.5 L522.4 459.6 L522.7 458.7 L523.0 457.8 L523.4 456.9 L523.7 456.0 L524.0 455.0 L524.3 454.1 L524.6 453.2 L525.0 452.3 L525.3 451.4 L525.6 450.5 L525.9 449.6 L526.2 448.7 L526.6 447.7 L526.9 446.8 L527.2 445.9 L527.5 445.0 L527.8 444.1 L528.1 443.2 L528.4 442.2 L528.8 441.3 L529.1 440.4 L529.4 439.5 L529.7 438.6 L530.0 437.7 L530.3 436.7 L530.6 435.8 L531.0 434.9 L531.3 434.0 L531.6 433.1 L531.9 432.2 L532.2 431.2 L532.5 430.3 L532.8 429.4 L533.2 428.5 L533.5 427.6 L533.8 426.6 L534.1 425.7 L534.4 424.8 L534.7 423.9 L535.1 423.0 L535.4 422.1 L535.7 421.1 L536.0 420.2 L536.3 419.3 L536.7 418.4 L537.0 417.5 L537.3 416.5 L537.6 415.6 L537.9 414.7 L538.3 413.8 L538.6 412.9 L538.9 412.0 L539.2 411.0 L539.6 410.1 L539.9 409.2 L540.2 408.3 L540.6 407.4 L540.9 406.5 L541.2 405.5 L541.6 404.6 L541.9 403.7 L542.2 402.8 L542.6 401.9 L542.9 401.0 L543.2 400.1 L543.6 399.1 L543.9 398.2 L544.3 397.3 L544.6 396.4 L545.0 395.5 L545.3 394.6 L545.7 393.7 L546.0 392.8 L546.4 391.9 L546.7 390.9 L547.1 390.0 L547.4 389.1 L547.8 388.2 L548.1 387.3 L548.5 386.4 L548.9 385.5 L549.2 384.6 L549.6 383.7 L550.0 382.8 L550.4 381.9 L550.7 381.0 L551.1 380.1 L551.5 379.2 L551.9 378.3 L552.2 377.4 L552.6 376.5 L553.0 375.6 L553.4 374.7 L553.8 373.8 L554.2 372.9 L554.6 372.0 L555.0 371.1 L555.4 370.2 L555.8 369.3 L556.2 368.4 L556.6 367.5 L557.0 366.6 L557.4 365.7 L557.8 364.8 L558.3 363.9 L558.7 363.0 L559.1 362.1 L559.5 361.3 L560.0 360.4 L560.4 359.5 L560.8 358.6 L561.3 357.7 L561.7 356.9 L562.1 356.0 L562.6 355.1 L563.0 354.2 L563.5 353.4 L564.0 352.5 L564.4 351.6 L564.9 350.7 L565.3 349.9 L565.8 349.0 L566.3 348.2 L566.7 347.3 L567.2 346.4 L567.7 345.6 L568.2 344.7 L568.7 343.9 L569.2 343.0 L569.6 342.2 L570.1 341.4 L570.6 340.5 L571.1 339.7 L571.7 338.9 L572.2 338.0 L572.7 337.2 L573.2 336.4 L573.7 335.6 L574.2 334.7 L574.8 333.9 L575.3 333.1 L575.8 332.3 L576.4 331.5 L576.9 330.7 L577.5 329.9 L578.0 329.1 L578.6 328.3 L579.1 327.5 L579.7 326.7 L580.2 326.0 L580.8 325.2 L581.4 324.4 L582.0 323.6 L582.5 322.9 L583.1 322.1 L583.7 321.3 L584.3 320.6 L584.9 319.8 L585.5 319.1 L586.1 318.4 L586.7 317.6 L587.3 316.9 L587.9 316.2 L588.6 315.4 L589.2 314.7 L589.8 314.0 L590.5 313.3 L591.1 312.6 L591.7 311.9 L592.4 311.2 L593.0 310.5 L593.7 309.8 L594.4 309.1 L595.0 308.5 L595.7 307.8 L596.4 307.1 L597.1 306.5 L597.7 305.8 L598.4 305.2 L599.1 304.5 L599.8 303.9 L600.5 303.2 L601.2 302.6 L601.9 302.0 L602.7 301.4 L603.4 300.8 L604.1 300.1 L604.8 299.5 L605.6 298.9 L606.3 298.3 L607.1 297.8 L607.8 297.2 L608.5 296.6 L609.3 296.0 L610.1 295.4 L610.8 294.9 L611.6 294.3 L612.4 293.8 L613.1 293.2 L613.9 292.7 L614.7 292.1 L615.5 291.6 L616.3 291.0 L617.1 290.5 L617.8 290.0 L618.6 289.5 L619.4 289.0 L620.3 288.5 L621.1 287.9 L621.9 287.4 L622.7 286.9 L623.5 286.5 L624.3 286.0 L625.2 285.5 L626.0 285.0 L626.8 284.5 L627.7 284.1 L628.5 283.6 L629.3 283.1 L630.2 282.7 L631.0 282.2 L631.9 281.8 L632.7 281.3 L633.6 280.9 L634.4 280.4 L635.3 280.0 L636.2 279.6 L637.0 279.1 L637.9 278.7 L638.8 278.3 L639.7 277.9 L640.5 277.5 L641.4 277.1 L642.3 276.6 L643.2 276.2 L644.1 275.8 L645.0 275.5 L645.8 275.1 L646.7 274.7 L647.6 274.3 L648.5 273.9 L649.4 273.5 L650.3 273.2 L651.2 272.8 L652.2 272.4 L653.1 272.1 L654.0 271.7 L654.9 271.4 L655.8 271.0 L656.7 270.7 L657.6 270.3 L658.6 270.0 L659.5 269.6 L660.4 269.3 L661.3 269.0 L662.3 268.6 L663.2 268.3 L664.1 268.0 L665.0 267.7 L666.0 267.4 L666.9 267.0 L667.8 266.7 L668.8 266.4 L669.7 266.1 L670.7 265.8 L671.6 265.5 L672.5 265.2 L673.5 264.9 L674.4 264.7 L675.4 264.4 L676.3 264.1 L677.3 263.8 L678.2 263.5 L679.2 263.2 L680.1 263.0 L681.1 262.7 L682.0 262.4 L683.0 262.2 L683.9 261.9 L684.9 261.6 L685.8 261.4 L686.8 261.1 L687.7 260.9 L688.7 260.6 L689.6 260.4 L690.6 260.1 L691.6 259.9 L692.5 259.7 L693.5 259.4 L694.4 259.2 L695.4 259.0 L696.3 258.7 L697.3 258.5 L698.3 258.3 L699.2 258.0 L700.2 257.8 L701.1 257.6 L702.1 257.4 L703.1 257.2 L704.0 256.9 L705.0 256.7 L705.9 256.5 L706.9 256.3 L707.8 256.1 L708.8 255.9 L709.8 255.7 L710.7 255.5 L711.7 255.3 L712.6 255.1 L713.6 254.9 L714.6 254.7 L715.5 254.5 L716.5 254.3 L717.4 254.2 L718.4 254.0 L719.3 253.8 L720.3 253.6 L721.3 253.4 L722.2 253.3 L723.2 253.1 L724.1 252.9 L725.1 252.7 L726.0 252.6 L727.0 252.4 L728.0 252.2 L728.9 252.1 L729.9 251.9 L730.8 251.7 L731.8 251.6 L732.7 251.4 L733.7 251.3 L734.7 251.1 L735.6 251.0 L736.6 250.8 L737.5 250.7 L738.5 250.5 L739.4 250.4 L740.4 250.2 L741.4 250.1 L742.3 250.0 L743.3 249.8 L744.2 249.7 L745.2 249.6 L746.1 249.4 L747.1 249.3 L748.1 249.2 L749.0 249.0 L750.0 248.9 L750.9 248.8 L751.9 248.7 L752.9 248.5 L753.8 248.4 L754.8 248.3 L755.7 248.2 L756.7 248.1 L757.6 248.0 L758.6 247.8 L759.6 247.7 L760.5 247.6 L761.5 247.5 L762.4 247.4 L763.4 247.3 L764.4 247.2 L765.3 247.1 L766.3 247.0 L767.2 246.9 L768.2 246.8 L769.2 246.7 L770.1 246.6 L771.1 246.5 L772.0 246.4 L773.0 246.3 L774.0 246.3 L774.9 246.2 L775.9 246.1 L776.8 246.0 L777.8 245.9 L778.8 245.8 L779.7 245.8 L780.7 245.7 L781.6 245.6 L782.6 245.5 L783.6 245.4 L784.5 245.4 L785.5 245.3 L786.5 245.2 L787.4 245.2 L788.4 245.1 L789.3 245.0 L790.3 245.0 L791.3 244.9 L792.2 244.8 L793.2 244.8 L794.2 244.7 L795.1 244.6 L796.1 244.6 L797.1 244.5 L798.0 244.5 L799.0 244.4 L800.0 244.4 L800.9 244.3 L801.9 244.3 L802.8 244.2 L803.8 244.2 L804.8 244.1 L805.7 244.1 L806.7 244.0 L807.7 244.0 L808.6 243.9 L809.6 243.9 L810.6 243.9 L811.6 243.8 L812.5 243.8 L813.5 243.7 L814.5 243.7 L815.4 243.7 L816.4 243.6 L817.4 243.6 L818.3 243.6 L819.3 243.5 L820.3 243.5 L821.3 243.5 L822.2 243.4 L823.2 243.4 L824.2 243.4 L825.1 243.4 L826.1 243.3 L827.1 243.3 L828.1 243.3 L829.0 243.3 L830.0 243.2 L831.0 243.2 L832.0 243.2 L832.9 243.2 L833.9 243.2 L834.9 243.1 L835.9 243.1 L836.8 243.1 L837.8 243.1 L838.8 243.1 L839.8 243.1 L840.7 243.1 L841.7 243.0 L842.7 243.0 L843.7 243.0 L844.7 243.0 L845.6 243.0 L846.6 243.0 L847.6 243.0 L848.6 243.0 L849.6 243.0 L850.5 243.0 L851.5 243.0 L852.5 243.0 L853.5 243.0 L854.5 243.0 L855.5 243.0 L856.4 243.0 L857.4 243.0" fill="none" stroke="#1099b4" stroke-width="4.6"/><line x1="326.9" y1="301.5" x2="326.9" y2="451.6" stroke="#000" stroke-width="3.9"/><text x="310.71" y="456.8" font-size="21.5" font-weight="normal" fill="#000" textLength="11.98" lengthAdjust="spacingAndGlyphs" stroke="#000" stroke-width="0.5" stroke-linejoin="round">0</text><text x="309.73" y="407.9" font-size="21.5" font-weight="normal" fill="#000" textLength="13.29" lengthAdjust="spacingAndGlyphs" stroke="#000" stroke-width="0.5" stroke-linejoin="round">1</text><text x="310.41" y="359.0" font-size="21.5" font-weight="normal" fill="#000" textLength="12.57" lengthAdjust="spacingAndGlyphs" stroke="#000" stroke-width="0.5" stroke-linejoin="round">2</text><text x="310.72" y="310.1" font-size="21.5" font-weight="normal" fill="#000" textLength="12.08" lengthAdjust="spacingAndGlyphs" stroke="#000" stroke-width="0.5" stroke-linejoin="round">3</text><text transform="translate(298.4 411.3) rotate(-90)" x="-1.54" y="0" font-size="21.2" font-weight="normal" fill="#000" textLength="72.40" lengthAdjust="spacingAndGlyphs" stroke="#000" stroke-width="0.5" stroke-linejoin="round">IEI (sec)</text><path d="M356.4 317.1 L356.5 317.6 L356.6 318.1 L356.6 318.6 L356.7 319.1 L356.8 319.6 L356.9 320.1 L357.0 320.6 L357.0 321.1 L357.1 321.6 L357.2 322.1 L357.3 322.6 L357.3 323.1 L357.4 323.6 L357.5 324.1 L357.6 324.6 L357.7 325.1 L357.8 325.6 L357.9 326.1 L358.0 326.6 L358.1 327.1 L358.2 327.6 L358.3 328.1 L358.5 328.6 L358.6 329.1 L358.7 329.6 L358.9 330.1 L359.0 330.6 L359.1 331.1 L359.3 331.6 L359.4 332.1 L359.5 332.6 L359.7 333.1 L359.8 333.6 L359.9 334.1 L360.1 334.6 L360.2 335.1 L360.3 335.6 L360.4 336.1 L360.5 336.6 L360.6 337.1 L360.7 337.6 L360.7 338.1 L360.8 338.6 L360.8 339.1 L360.8 339.6 L360.9 340.1 L360.9 340.6 L361.0 341.1 L361.0 341.6 L361.0 342.1 L361.1 342.6 L361.2 343.1 L361.2 343.6 L361.3 344.1 L361.3 344.6 L361.4 345.1 L361.5 345.6 L361.5 346.1 L361.6 346.6 L361.7 347.1 L361.7 347.6 L361.8 348.1 L361.9 348.6 L362.0 349.1 L362.0 349.6 L362.1 350.1 L362.2 350.6 L362.3 351.1 L362.4 351.6 L362.4 352.1 L362.5 352.6 L362.6 353.1 L362.7 353.6 L362.8 354.1 L362.9 354.6 L363.0 355.1 L363.1 355.6 L363.2 356.1 L363.4 356.6 L363.5 357.1 L363.6 357.6 L363.7 358.1 L363.8 358.6 L363.9 359.1 L364.1 359.6 L364.2 360.1 L364.3 360.6 L364.4 361.1 L364.5 361.6 L364.7 362.1 L364.8 362.6 L364.9 363.1 L365.0 363.6 L365.2 364.1 L365.3 364.6 L365.4 365.1 L365.5 365.6 L365.7 366.1 L365.8 366.6 L365.9 367.1 L366.1 367.6 L366.2 368.1 L366.3 368.6 L366.4 369.1 L366.6 369.6 L366.7 370.1 L366.8 370.6 L366.9 371.1 L367.0 371.6 L367.1 372.1 L367.2 372.6 L367.3 373.1 L367.4 373.6 L367.5 374.1 L367.6 374.6 L367.7 375.1 L367.8 375.6 L367.9 376.1 L368.1 376.6 L368.2 377.1 L368.3 377.6 L368.5 378.1 L368.6 378.6 L368.7 379.1 L368.9 379.6 L369.0 380.1 L369.1 380.6 L369.2 381.1 L369.3 381.6 L369.4 382.1 L369.4 382.6 L369.5 383.1 L369.5 383.6 L369.5 384.1 L369.5 384.6 L369.5 385.1 L369.5 385.6 L369.5 386.1 L369.5 386.6 L369.5 387.1 L369.4 387.6 L369.4 388.1 L369.4 388.6 L369.4 389.1 L369.4 389.6 L369.4 390.1 L369.3 390.6 L369.3 391.1 L369.3 391.6 L369.3 392.1 L369.2 392.6 L369.2 393.1 L369.1 393.6 L369.1 394.1 L368.9 394.6 L368.8 395.1 L368.7 395.6 L368.5 396.1 L368.3 396.6 L368.1 397.1 L367.9 397.6 L367.6 398.1 L367.4 398.6 L367.1 399.1 L366.9 399.6 L366.6 400.1 L366.3 400.6 L366.0 401.1 L365.6 401.6 L365.1 402.1 L364.7 402.6 L364.2 403.1 L363.7 403.6 L363.3 404.1 L362.9 404.6 L362.6 405.1 L362.3 405.6 L362.0 406.1 L361.8 406.6 L361.5 407.1 L361.3 407.6 L361.0 408.1 L360.8 408.6 L360.6 409.1 L360.5 409.6 L360.3 410.1 L360.2 410.6 L360.2 411.1 L360.1 411.6 L360.1 412.1 L360.1 412.6 L360.0 413.1 L360.0 413.6 L360.0 414.1 L360.0 414.6 L359.9 415.1 L359.9 415.6 L359.9 416.1 L359.9 416.6 L359.9 417.1 L359.9 417.6 L359.8 418.1 L359.8 418.6 L359.8 419.1 L359.8 419.6 L359.8 420.1 L359.8 420.6 L359.7 421.1 L359.7 421.6 L359.7 422.1 L359.6 422.6 L359.5 423.1 L359.4 423.6 L359.4 424.1 L359.2 424.6 L359.1 425.1 L359.0 425.6 L358.9 426.1 L358.8 426.6 L358.7 427.1 L358.6 427.6 L358.5 428.1 L358.5 428.6 L358.4 429.1 L358.3 429.6 L358.2 430.1 L358.1 430.6 L358.0 431.1 L357.9 431.6 L357.9 432.1 L357.8 432.6 L357.7 433.1 L357.7 433.6 L357.6 434.1 L357.6 434.6 L357.5 435.1 L357.5 435.6 L357.4 436.1 L357.4 436.6 L357.3 437.1 L357.2 437.6 L357.2 438.1 L357.1 438.6 L357.1 439.1 L357.0 439.6 L356.9 440.1 L356.9 440.6 L356.8 441.1 L356.7 441.6 L356.7 442.1 L356.6 442.6 L356.5 443.1 L356.5 443.6 L356.3 443.6 L356.3 443.1 L356.2 442.6 L356.1 442.1 L356.1 441.6 L356.0 441.1 L355.9 440.6 L355.9 440.1 L355.8 439.6 L355.7 439.1 L355.7 438.6 L355.6 438.1 L355.6 437.6 L355.5 437.1 L355.4 436.6 L355.4 436.1 L355.3 435.6 L355.3 435.1 L355.2 434.6 L355.2 434.1 L355.1 433.6 L355.1 433.1 L355.0 432.6 L354.9 432.1 L354.9 431.6 L354.8 431.1 L354.7 430.6 L354.6 430.1 L354.5 429.6 L354.4 429.1 L354.3 428.6 L354.3 428.1 L354.2 427.6 L354.1 427.1 L354.0 426.6 L353.9 426.1 L353.8 425.6 L353.7 425.1 L353.6 424.6 L353.4 424.1 L353.4 423.6 L353.3 423.1 L353.2 422.6 L353.1 422.1 L353.1 421.6 L353.1 421.1 L353.0 420.6 L353.0 420.1 L353.0 419.6 L353.0 419.1 L353.0 418.6 L353.0 418.1 L352.9 417.6 L352.9 417.1 L352.9 416.6 L352.9 416.1 L352.9 415.6 L352.9 415.1 L352.8 414.6 L352.8 414.1 L352.8 413.6 L352.8 413.1 L352.7 412.6 L352.7 412.1 L352.7 411.6 L352.6 411.1 L352.6 410.6 L352.5 410.1 L352.3 409.6 L352.2 409.1 L352.0 408.6 L351.8 408.1 L351.5 407.6 L351.3 407.1 L351.0 406.6 L350.8 406.1 L350.5 405.6 L350.2 405.1 L349.9 404.6 L349.5 404.1 L349.1 403.6 L348.6 403.1 L348.1 402.6 L347.7 402.1 L347.2 401.6 L346.8 401.1 L346.5 400.6 L346.2 400.1 L345.9 399.6 L345.7 399.1 L345.4 398.6 L345.2 398.1 L344.9 397.6 L344.7 397.1 L344.5 396.6 L344.3 396.1 L344.1 395.6 L344.0 395.1 L343.9 394.6 L343.7 394.1 L343.7 393.6 L343.6 393.1 L343.6 392.6 L343.5 392.1 L343.5 391.6 L343.5 391.1 L343.5 390.6 L343.4 390.1 L343.4 389.6 L343.4 389.1 L343.4 388.6 L343.4 388.1 L343.4 387.6 L343.3 387.1 L343.3 386.6 L343.3 386.1 L343.3 385.6 L343.3 385.1 L343.3 384.6 L343.3 384.1 L343.3 383.6 L343.3 383.1 L343.4 382.6 L343.4 382.1 L343.5 381.6 L343.6 381.1 L343.7 380.6 L343.8 380.1 L343.9 379.6 L344.1 379.1 L344.2 378.6 L344.3 378.1 L344.5 377.6 L344.6 377.1 L344.7 376.6 L344.9 376.1 L345.0 375.6 L345.1 375.1 L345.2 374.6 L345.3 374.1 L345.4 373.6 L345.5 373.1 L345.6 372.6 L345.7 372.1 L345.8 371.6 L345.9 371.1 L346.0 370.6 L346.1 370.1 L346.2 369.6 L346.4 369.1 L346.5 368.6 L346.6 368.1 L346.7 367.6 L346.9 367.1 L347.0 366.6 L347.1 366.1 L347.3 365.6 L347.4 365.1 L347.5 364.6 L347.6 364.1 L347.8 363.6 L347.9 363.1 L348.0 362.6 L348.1 362.1 L348.3 361.6 L348.4 361.1 L348.5 360.6 L348.6 360.1 L348.7 359.6 L348.9 359.1 L349.0 358.6 L349.1 358.1 L349.2 357.6 L349.3 357.1 L349.4 356.6 L349.6 356.1 L349.7 355.6 L349.8 355.1 L349.9 354.6 L350.0 354.1 L350.1 353.6 L350.2 353.1 L350.3 352.6 L350.4 352.1 L350.4 351.6 L350.5 351.1 L350.6 350.6 L350.7 350.1 L350.8 349.6 L350.8 349.1 L350.9 348.6 L351.0 348.1 L351.1 347.6 L351.1 347.1 L351.2 346.6 L351.3 346.1 L351.3 345.6 L351.4 345.1 L351.5 344.6 L351.5 344.1 L351.6 343.6 L351.6 343.1 L351.7 342.6 L351.8 342.1 L351.8 341.6 L351.8 341.1 L351.9 340.6 L351.9 340.1 L352.0 339.6 L352.0 339.1 L352.0 338.6 L352.1 338.1 L352.1 337.6 L352.2 337.1 L352.3 336.6 L352.4 336.1 L352.5 335.6 L352.6 335.1 L352.7 334.6 L352.9 334.1 L353.0 333.6 L353.1 333.1 L353.3 332.6 L353.4 332.1 L353.5 331.6 L353.7 331.1 L353.8 330.6 L353.9 330.1 L354.1 329.6 L354.2 329.1 L354.3 328.6 L354.5 328.1 L354.6 327.6 L354.7 327.1 L354.8 326.6 L354.9 326.1 L355.0 325.6 L355.1 325.1 L355.2 324.6 L355.3 324.1 L355.4 323.6 L355.5 323.1 L355.5 322.6 L355.6 322.1 L355.7 321.6 L355.8 321.1 L355.8 320.6 L355.9 320.1 L356.0 319.6 L356.1 319.1 L356.2 318.6 L356.2 318.1 L356.3 317.6 L356.4 317.1Z" fill="#8cbaf2" stroke="#6aa2e6" stroke-width="0.8"/><path d="M398.4 330.1 L398.5 330.6 L398.5 331.1 L398.6 331.6 L398.7 332.1 L398.7 332.6 L398.8 333.1 L398.9 333.6 L398.9 334.1 L399.0 334.6 L399.1 335.1 L399.1 335.6 L399.2 336.1 L399.3 336.6 L399.4 337.1 L399.4 337.6 L399.5 338.1 L399.6 338.6 L399.7 339.1 L399.7 339.6 L399.8 340.1 L399.9 340.6 L400.0 341.1 L400.1 341.6 L400.2 342.1 L400.3 342.6 L400.4 343.1 L400.6 343.6 L400.7 344.1 L400.9 344.6 L401.0 345.1 L401.2 345.6 L401.3 346.1 L401.5 346.6 L401.7 347.1 L401.8 347.6 L401.9 348.1 L402.0 348.6 L402.2 349.1 L402.3 349.6 L402.4 350.1 L402.5 350.6 L402.6 351.1 L402.7 351.6 L402.8 352.1 L402.9 352.6 L403.0 353.1 L403.0 353.6 L403.1 354.1 L403.1 354.6 L403.1 355.1 L403.2 355.6 L403.2 356.1 L403.2 356.6 L403.3 357.1 L403.3 357.6 L403.3 358.1 L403.3 358.6 L403.3 359.1 L403.3 359.6 L403.2 360.1 L403.1 360.6 L403.0 361.1 L402.9 361.6 L402.8 362.1 L402.6 362.6 L402.5 363.1 L402.4 363.6 L402.2 364.1 L402.1 364.6 L402.0 365.1 L401.9 365.6 L401.7 366.1 L401.6 366.6 L401.4 367.1 L401.3 367.6 L401.2 368.1 L401.1 368.6 L401.0 369.1 L401.0 369.6 L401.0 370.1 L401.0 370.6 L401.0 371.1 L401.0 371.6 L401.0 372.1 L401.0 372.6 L401.2 373.1 L401.5 373.6 L401.9 374.1 L402.5 374.6 L403.0 375.1 L403.5 375.6 L404.0 376.1 L404.4 376.6 L404.9 377.1 L405.4 377.6 L405.9 378.1 L406.4 378.6 L406.9 379.1 L407.4 379.6 L407.8 380.1 L408.3 380.6 L408.7 381.1 L409.1 381.6 L409.5 382.1 L409.8 382.6 L410.0 383.1 L410.1 383.6 L410.2 384.1 L410.3 384.6 L410.3 385.1 L410.4 385.6 L410.4 386.1 L410.4 386.6 L410.5 387.1 L410.5 387.6 L410.5 388.1 L410.6 388.6 L410.6 389.1 L410.6 389.6 L410.6 390.1 L410.7 390.6 L410.7 391.1 L410.7 391.6 L410.7 392.1 L410.7 392.6 L410.7 393.1 L410.6 393.6 L410.5 394.1 L410.3 394.6 L410.0 395.1 L409.7 395.6 L409.4 396.1 L409.1 396.6 L408.8 397.1 L408.4 397.6 L408.2 398.1 L407.9 398.6 L407.7 399.1 L407.6 399.6 L407.6 400.1 L407.6 400.6 L407.7 401.1 L407.8 401.6 L407.9 402.1 L408.0 402.6 L408.2 403.1 L408.3 403.6 L408.5 404.1 L408.7 404.6 L408.8 405.1 L409.0 405.6 L409.1 406.1 L409.3 406.6 L409.5 407.1 L409.7 407.6 L409.9 408.1 L410.2 408.6 L410.4 409.1 L410.5 409.6 L410.7 410.1 L410.8 410.6 L410.9 411.1 L411.0 411.6 L411.1 412.1 L411.2 412.6 L411.3 413.1 L411.4 413.6 L411.4 414.1 L411.5 414.6 L411.6 415.1 L411.6 415.6 L411.6 416.1 L411.6 416.6 L411.5 417.1 L411.4 417.6 L411.3 418.1 L411.1 418.6 L410.9 419.1 L410.6 419.6 L410.4 420.1 L410.1 420.6 L409.8 421.1 L409.6 421.6 L409.2 422.1 L408.8 422.6 L408.3 423.1 L407.8 423.6 L407.2 424.1 L406.6 424.6 L406.0 425.1 L405.4 425.6 L404.8 426.1 L404.3 426.6 L403.9 427.1 L403.5 427.6 L403.2 428.1 L402.8 428.6 L402.5 429.1 L402.2 429.6 L401.9 430.1 L401.6 430.6 L401.4 431.1 L401.2 431.6 L401.0 432.1 L400.8 432.6 L400.7 433.1 L400.5 433.6 L400.4 434.1 L400.3 434.6 L400.2 435.1 L400.1 435.6 L400.0 436.1 L399.9 436.6 L399.8 437.1 L399.7 437.6 L399.6 438.1 L399.5 438.6 L399.4 439.1 L399.3 439.6 L399.2 440.1 L399.2 440.6 L399.1 441.1 L399.0 441.6 L398.9 442.1 L398.8 442.6 L398.7 443.1 L398.6 443.6 L398.5 444.1 L398.5 444.6 L398.3 444.6 L398.3 444.1 L398.2 443.6 L398.1 443.1 L398.0 442.6 L397.9 442.1 L397.8 441.6 L397.7 441.1 L397.6 440.6 L397.6 440.1 L397.5 439.6 L397.4 439.1 L397.3 438.6 L397.2 438.1 L397.1 437.6 L397.0 437.1 L396.9 436.6 L396.8 436.1 L396.7 435.6 L396.6 435.1 L396.5 434.6 L396.4 434.1 L396.3 433.6 L396.1 433.1 L396.0 432.6 L395.8 432.1 L395.6 431.6 L395.4 431.1 L395.2 430.6 L394.9 430.1 L394.6 429.6 L394.3 429.1 L394.0 428.6 L393.6 428.1 L393.3 427.6 L392.9 427.1 L392.5 426.6 L392.0 426.1 L391.4 425.6 L390.8 425.1 L390.2 424.6 L389.6 424.1 L389.0 423.6 L388.5 423.1 L388.0 422.6 L387.6 422.1 L387.2 421.6 L387.0 421.1 L386.7 420.6 L386.4 420.1 L386.2 419.6 L385.9 419.1 L385.7 418.6 L385.5 418.1 L385.4 417.6 L385.3 417.1 L385.2 416.6 L385.2 416.1 L385.2 415.6 L385.2 415.1 L385.3 414.6 L385.4 414.1 L385.4 413.6 L385.5 413.1 L385.6 412.6 L385.7 412.1 L385.8 411.6 L385.9 411.1 L386.0 410.6 L386.1 410.1 L386.3 409.6 L386.4 409.1 L386.6 408.6 L386.9 408.1 L387.1 407.6 L387.3 407.1 L387.5 406.6 L387.7 406.1 L387.8 405.6 L388.0 405.1 L388.1 404.6 L388.3 404.1 L388.5 403.6 L388.6 403.1 L388.8 402.6 L388.9 402.1 L389.0 401.6 L389.1 401.1 L389.2 400.6 L389.2 400.1 L389.2 399.6 L389.1 399.1 L388.9 398.6 L388.6 398.1 L388.4 397.6 L388.0 397.1 L387.7 396.6 L387.4 396.1 L387.1 395.6 L386.8 395.1 L386.5 394.6 L386.3 394.1 L386.2 393.6 L386.1 393.1 L386.1 392.6 L386.1 392.1 L386.1 391.6 L386.1 391.1 L386.1 390.6 L386.2 390.1 L386.2 389.6 L386.2 389.1 L386.2 388.6 L386.3 388.1 L386.3 387.6 L386.3 387.1 L386.4 386.6 L386.4 386.1 L386.4 385.6 L386.5 385.1 L386.5 384.6 L386.6 384.1 L386.7 383.6 L386.8 383.1 L387.0 382.6 L387.3 382.1 L387.7 381.6 L388.1 381.1 L388.5 380.6 L389.0 380.1 L389.4 379.6 L389.9 379.1 L390.4 378.6 L390.9 378.1 L391.4 377.6 L391.9 377.1 L392.4 376.6 L392.8 376.1 L393.3 375.6 L393.8 375.1 L394.3 374.6 L394.9 374.1 L395.3 373.6 L395.6 373.1 L395.8 372.6 L395.8 372.1 L395.8 371.6 L395.8 371.1 L395.8 370.6 L395.8 370.1 L395.8 369.6 L395.8 369.1 L395.7 368.6 L395.6 368.1 L395.5 367.6 L395.4 367.1 L395.2 366.6 L395.1 366.1 L394.9 365.6 L394.8 365.1 L394.7 364.6 L394.6 364.1 L394.4 363.6 L394.3 363.1 L394.2 362.6 L394.0 362.1 L393.9 361.6 L393.8 361.1 L393.7 360.6 L393.6 360.1 L393.5 359.6 L393.5 359.1 L393.5 358.6 L393.5 358.1 L393.5 357.6 L393.5 357.1 L393.6 356.6 L393.6 356.1 L393.6 355.6 L393.7 355.1 L393.7 354.6 L393.7 354.1 L393.8 353.6 L393.8 353.1 L393.9 352.6 L394.0 352.1 L394.1 351.6 L394.2 351.1 L394.3 350.6 L394.4 350.1 L394.5 349.6 L394.6 349.1 L394.8 348.6 L394.9 348.1 L395.0 347.6 L395.1 347.1 L395.3 346.6 L395.5 346.1 L395.6 345.6 L395.8 345.1 L395.9 344.6 L396.1 344.1 L396.2 343.6 L396.4 343.1 L396.5 342.6 L396.6 342.1 L396.7 341.6 L396.8 341.1 L396.9 340.6 L397.0 340.1 L397.1 339.6 L397.1 339.1 L397.2 338.6 L397.3 338.1 L397.4 337.6 L397.4 337.1 L397.5 336.6 L397.6 336.1 L397.7 335.6 L397.7 335.1 L397.8 334.6 L397.9 334.1 L397.9 333.6 L398.0 333.1 L398.1 332.6 L398.1 332.1 L398.2 331.6 L398.3 331.1 L398.3 330.6 L398.4 330.1Z" fill="#fdc28c" stroke="#f7aa6a" stroke-width="0.8"/><line x1="348.2" y1="366" x2="364.5" y2="366" stroke="#2b6c78" stroke-width="1.3"/><line x1="344" y1="381.8" x2="368.6" y2="381.8" stroke="#1b2aa0" stroke-width="1.6"/><line x1="345" y1="395.8" x2="368" y2="395.8" stroke="#2b6c78" stroke-width="1.3"/><line x1="389" y1="385.5" x2="408.5" y2="385.5" stroke="#b8621a" stroke-width="1.3"/><line x1="386.4" y1="395.4" x2="409.3" y2="395.4" stroke="#ee2015" stroke-width="1.6"/><line x1="385.7" y1="415.2" x2="411" y2="415.2" stroke="#b8621a" stroke-width="1.3"/><circle cx="356.4" cy="341.5" r="2.1" fill="#1d9aa8" stroke="#0b6f7e" stroke-width="0.9"/><circle cx="356.4" cy="356.2" r="2.1" fill="#1d9aa8" stroke="#0b6f7e" stroke-width="0.9"/><circle cx="356.4" cy="363.8" r="2.1" fill="#1d9aa8" stroke="#0b6f7e" stroke-width="0.9"/><circle cx="352.3" cy="371.7" r="2.1" fill="#1d9aa8" stroke="#0b6f7e" stroke-width="0.9"/><circle cx="360.0" cy="375.5" r="2.1" fill="#1d9aa8" stroke="#0b6f7e" stroke-width="0.9"/><circle cx="352.3" cy="379.0" r="2.1" fill="#1d9aa8" stroke="#0b6f7e" stroke-width="0.9"/><circle cx="356.1" cy="384.4" r="2.1" fill="#1d9aa8" stroke="#0b6f7e" stroke-width="0.9"/><circle cx="352.3" cy="390.2" r="2.1" fill="#1d9aa8" stroke="#0b6f7e" stroke-width="0.9"/><circle cx="360.0" cy="392.5" r="2.1" fill="#1d9aa8" stroke="#0b6f7e" stroke-width="0.9"/><circle cx="352.3" cy="396.8" r="2.1" fill="#1d9aa8" stroke="#0b6f7e" stroke-width="0.9"/><circle cx="360.0" cy="400.1" r="2.1" fill="#1d9aa8" stroke="#0b6f7e" stroke-width="0.9"/><circle cx="356.4" cy="419.8" r="2.1" fill="#1d9aa8" stroke="#0b6f7e" stroke-width="0.9"/><circle cx="398.4" cy="353.5" r="2.1" fill="#f7a848" stroke="#c9701c" stroke-width="0.9"/><circle cx="398.4" cy="360.9" r="2.1" fill="#f7a848" stroke="#c9701c" stroke-width="0.9"/><circle cx="390.7" cy="384.0" r="2.1" fill="#f7a848" stroke="#c9701c" stroke-width="0.9"/><circle cx="406.0" cy="385.5" r="2.1" fill="#f7a848" stroke="#c9701c" stroke-width="0.9"/><circle cx="390.7" cy="389.0" r="2.1" fill="#f7a848" stroke="#c9701c" stroke-width="0.9"/><circle cx="406.0" cy="392.3" r="2.1" fill="#f7a848" stroke="#c9701c" stroke-width="0.9"/><circle cx="390.7" cy="395.6" r="2.1" fill="#f7a848" stroke="#c9701c" stroke-width="0.9"/><circle cx="398.4" cy="395.6" r="2.1" fill="#f7a848" stroke="#c9701c" stroke-width="0.9"/><circle cx="398.4" cy="406.8" r="2.1" fill="#f7a848" stroke="#c9701c" stroke-width="0.9"/><circle cx="398.4" cy="412.6" r="2.1" fill="#f7a848" stroke="#c9701c" stroke-width="0.9"/><circle cx="390.7" cy="415.2" r="2.1" fill="#f7a848" stroke="#c9701c" stroke-width="0.9"/><circle cx="398.4" cy="416.4" r="2.1" fill="#f7a848" stroke="#c9701c" stroke-width="0.9"/><circle cx="406.0" cy="416.4" r="2.1" fill="#f7a848" stroke="#c9701c" stroke-width="0.9"/><circle cx="398.4" cy="422.8" r="2.1" fill="#f7a848" stroke="#c9701c" stroke-width="0.9"/><line x1="733" y1="301.6" x2="733" y2="451.6" stroke="#000" stroke-width="3.8"/><text x="705.11" y="457.4" font-size="21.5" font-weight="normal" fill="#000" textLength="22.42" lengthAdjust="spacingAndGlyphs" stroke="#000" stroke-width="0.5" stroke-linejoin="round">10</text><text x="705.11" y="408.3" font-size="21.5" font-weight="normal" fill="#000" textLength="22.49" lengthAdjust="spacingAndGlyphs" stroke="#000" stroke-width="0.5" stroke-linejoin="round">15</text><text x="705.66" y="359.1" font-size="21.5" font-weight="normal" fill="#000" textLength="21.86" lengthAdjust="spacingAndGlyphs" stroke="#000" stroke-width="0.5" stroke-linejoin="round">20</text><text x="705.66" y="310.0" font-size="21.5" font-weight="normal" fill="#000" textLength="21.92" lengthAdjust="spacingAndGlyphs" stroke="#000" stroke-width="0.5" stroke-linejoin="round">25</text><text transform="translate(697.4 442.0) rotate(-90)" x="-1.32" y="0" font-size="21.2" font-weight="normal" fill="#000" textLength="135.26" lengthAdjust="spacingAndGlyphs" stroke="#000" stroke-width="0.5" stroke-linejoin="round">Peak Amp. (pA)</text><path d="M766.6 326.3 L766.6 326.8 L766.7 327.3 L766.7 327.8 L766.8 328.3 L766.8 328.8 L766.9 329.3 L767.0 329.8 L767.0 330.3 L767.1 330.8 L767.2 331.3 L767.3 331.8 L767.3 332.3 L767.4 332.8 L767.5 333.3 L767.6 333.8 L767.7 334.3 L767.8 334.8 L767.9 335.3 L768.0 335.8 L768.1 336.3 L768.2 336.8 L768.4 337.3 L768.5 337.8 L768.6 338.3 L768.7 338.8 L768.9 339.3 L769.0 339.8 L769.2 340.3 L769.3 340.8 L769.5 341.3 L769.7 341.8 L769.8 342.3 L770.0 342.8 L770.2 343.3 L770.3 343.8 L770.5 344.3 L770.6 344.8 L770.7 345.3 L770.8 345.8 L770.9 346.3 L771.0 346.8 L771.1 347.3 L771.2 347.8 L771.3 348.3 L771.4 348.8 L771.4 349.3 L771.5 349.8 L771.6 350.3 L771.7 350.8 L771.7 351.3 L771.8 351.8 L771.9 352.3 L771.9 352.8 L772.0 353.3 L772.0 353.8 L772.1 354.3 L772.1 354.8 L772.2 355.3 L772.2 355.8 L772.3 356.3 L772.3 356.8 L772.4 357.3 L772.5 357.8 L772.6 358.3 L772.7 358.8 L772.8 359.3 L773.0 359.8 L773.1 360.3 L773.3 360.8 L773.5 361.3 L773.7 361.8 L773.9 362.3 L774.1 362.8 L774.4 363.3 L774.6 363.8 L774.8 364.3 L775.0 364.8 L775.2 365.3 L775.4 365.8 L775.6 366.3 L775.8 366.8 L776.0 367.3 L776.3 367.8 L776.5 368.3 L776.7 368.8 L776.9 369.3 L777.1 369.8 L777.3 370.3 L777.4 370.8 L777.6 371.3 L777.7 371.8 L777.9 372.3 L778.0 372.8 L778.1 373.3 L778.2 373.8 L778.4 374.3 L778.5 374.8 L778.6 375.3 L778.7 375.8 L778.8 376.3 L779.0 376.8 L779.1 377.3 L779.2 377.8 L779.3 378.3 L779.4 378.8 L779.5 379.3 L779.7 379.8 L779.8 380.3 L779.9 380.8 L780.0 381.3 L780.1 381.8 L780.2 382.3 L780.4 382.8 L780.5 383.3 L780.6 383.8 L780.7 384.3 L780.8 384.8 L781.0 385.3 L781.1 385.8 L781.2 386.3 L781.3 386.8 L781.5 387.3 L781.6 387.8 L781.7 388.3 L781.8 388.8 L781.9 389.3 L782.0 389.8 L782.1 390.3 L782.2 390.8 L782.3 391.3 L782.4 391.8 L782.5 392.3 L782.6 392.8 L782.7 393.3 L782.8 393.8 L782.9 394.3 L783.0 394.8 L783.1 395.3 L783.2 395.8 L783.2 396.3 L783.3 396.8 L783.3 397.3 L783.4 397.8 L783.4 398.3 L783.4 398.8 L783.4 399.3 L783.4 399.8 L783.4 400.3 L783.4 400.8 L783.4 401.3 L783.4 401.8 L783.4 402.3 L783.4 402.8 L783.4 403.3 L783.4 403.8 L783.4 404.3 L783.4 404.8 L783.4 405.3 L783.4 405.8 L783.4 406.3 L783.3 406.8 L783.3 407.3 L783.3 407.8 L783.2 408.3 L783.1 408.8 L783.1 409.3 L783.0 409.8 L782.9 410.3 L782.8 410.8 L782.7 411.3 L782.7 411.8 L782.6 412.3 L782.5 412.8 L782.4 413.3 L782.3 413.8 L782.2 414.3 L782.1 414.8 L782.0 415.3 L781.8 415.8 L781.7 416.3 L781.6 416.8 L781.4 417.3 L781.3 417.8 L781.1 418.3 L781.0 418.8 L780.8 419.3 L780.6 419.8 L780.5 420.3 L780.3 420.8 L780.1 421.3 L779.9 421.8 L779.7 422.3 L779.5 422.8 L779.2 423.3 L779.0 423.8 L778.8 424.3 L778.6 424.8 L778.3 425.3 L778.1 425.8 L777.9 426.3 L777.6 426.8 L777.4 427.3 L777.1 427.8 L776.9 428.3 L776.6 428.8 L776.3 429.3 L776.1 429.8 L775.8 430.3 L775.5 430.8 L775.2 431.3 L774.9 431.8 L774.6 432.3 L774.3 432.8 L773.9 433.3 L773.5 433.8 L773.1 434.3 L772.7 434.8 L772.3 435.3 L771.9 435.8 L771.4 436.3 L771.0 436.8 L770.7 437.3 L770.3 437.8 L770.0 438.3 L769.7 438.8 L769.5 439.3 L769.3 439.8 L769.2 440.3 L769.0 440.8 L768.9 441.3 L768.7 441.8 L768.6 442.3 L768.5 442.8 L768.4 443.3 L768.3 443.8 L768.1 444.3 L768.0 444.8 L767.9 445.3 L767.8 445.8 L767.7 446.3 L767.6 446.8 L767.5 447.3 L767.4 447.8 L767.3 448.3 L767.3 448.8 L767.2 449.3 L767.1 449.8 L767.0 450.3 L766.9 450.8 L766.8 451.3 L766.8 451.8 L766.7 452.3 L766.6 452.8 L766.6 452.8 L766.5 452.3 L766.4 451.8 L766.4 451.3 L766.3 450.8 L766.2 450.3 L766.1 449.8 L766.0 449.3 L765.9 448.8 L765.9 448.3 L765.8 447.8 L765.7 447.3 L765.6 446.8 L765.5 446.3 L765.4 445.8 L765.3 445.3 L765.2 444.8 L765.1 444.3 L764.9 443.8 L764.8 443.3 L764.7 442.8 L764.6 442.3 L764.5 441.8 L764.3 441.3 L764.2 440.8 L764.0 440.3 L763.9 439.8 L763.7 439.3 L763.5 438.8 L763.2 438.3 L762.9 437.8 L762.5 437.3 L762.2 436.8 L761.8 436.3 L761.3 435.8 L760.9 435.3 L760.5 434.8 L760.1 434.3 L759.7 433.8 L759.3 433.3 L758.9 432.8 L758.6 432.3 L758.3 431.8 L758.0 431.3 L757.7 430.8 L757.4 430.3 L757.1 429.8 L756.9 429.3 L756.6 428.8 L756.3 428.3 L756.1 427.8 L755.8 427.3 L755.6 426.8 L755.3 426.3 L755.1 425.8 L754.9 425.3 L754.6 424.8 L754.4 424.3 L754.2 423.8 L754.0 423.3 L753.7 422.8 L753.5 422.3 L753.3 421.8 L753.1 421.3 L752.9 420.8 L752.7 420.3 L752.6 419.8 L752.4 419.3 L752.2 418.8 L752.1 418.3 L751.9 417.8 L751.8 417.3 L751.6 416.8 L751.5 416.3 L751.4 415.8 L751.2 415.3 L751.1 414.8 L751.0 414.3 L750.9 413.8 L750.8 413.3 L750.7 412.8 L750.6 412.3 L750.5 411.8 L750.5 411.3 L750.4 410.8 L750.3 410.3 L750.2 409.8 L750.1 409.3 L750.1 408.8 L750.0 408.3 L749.9 407.8 L749.9 407.3 L749.9 406.8 L749.8 406.3 L749.8 405.8 L749.8 405.3 L749.8 404.8 L749.8 404.3 L749.8 403.8 L749.8 403.3 L749.8 402.8 L749.8 402.3 L749.8 401.8 L749.8 401.3 L749.8 400.8 L749.8 400.3 L749.8 399.8 L749.8 399.3 L749.8 398.8 L749.8 398.3 L749.8 397.8 L749.9 397.3 L749.9 396.8 L750.0 396.3 L750.0 395.8 L750.1 395.3 L750.2 394.8 L750.3 394.3 L750.4 393.8 L750.5 393.3 L750.6 392.8 L750.7 392.3 L750.8 391.8 L750.9 391.3 L751.0 390.8 L751.1 390.3 L751.2 389.8 L751.3 389.3 L751.4 388.8 L751.5 388.3 L751.6 387.8 L751.7 387.3 L751.9 386.8 L752.0 386.3 L752.1 385.8 L752.2 385.3 L752.4 384.8 L752.5 384.3 L752.6 383.8 L752.7 383.3 L752.8 382.8 L753.0 382.3 L753.1 381.8 L753.2 381.3 L753.3 380.8 L753.4 380.3 L753.5 379.8 L753.7 379.3 L753.8 378.8 L753.9 378.3 L754.0 377.8 L754.1 377.3 L754.2 376.8 L754.4 376.3 L754.5 375.8 L754.6 375.3 L754.7 374.8 L754.8 374.3 L755.0 373.8 L755.1 373.3 L755.2 372.8 L755.3 372.3 L755.5 371.8 L755.6 371.3 L755.8 370.8 L755.9 370.3 L756.1 369.8 L756.3 369.3 L756.5 368.8 L756.7 368.3 L756.9 367.8 L757.2 367.3 L757.4 366.8 L757.6 366.3 L757.8 365.8 L758.0 365.3 L758.2 364.8 L758.4 364.3 L758.6 363.8 L758.8 363.3 L759.1 362.8 L759.3 362.3 L759.5 361.8 L759.7 361.3 L759.9 360.8 L760.1 360.3 L760.2 359.8 L760.4 359.3 L760.5 358.8 L760.6 358.3 L760.7 357.8 L760.8 357.3 L760.9 356.8 L760.9 356.3 L761.0 355.8 L761.0 355.3 L761.1 354.8 L761.1 354.3 L761.2 353.8 L761.2 353.3 L761.3 352.8 L761.3 352.3 L761.4 351.8 L761.5 351.3 L761.5 350.8 L761.6 350.3 L761.7 349.8 L761.8 349.3 L761.8 348.8 L761.9 348.3 L762.0 347.8 L762.1 347.3 L762.2 346.8 L762.3 346.3 L762.4 345.8 L762.5 345.3 L762.6 344.8 L762.7 344.3 L762.9 343.8 L763.0 343.3 L763.2 342.8 L763.4 342.3 L763.5 341.8 L763.7 341.3 L763.9 340.8 L764.0 340.3 L764.2 339.8 L764.3 339.3 L764.5 338.8 L764.6 338.3 L764.7 337.8 L764.8 337.3 L765.0 336.8 L765.1 336.3 L765.2 335.8 L765.3 335.3 L765.4 334.8 L765.5 334.3 L765.6 333.8 L765.7 333.3 L765.8 332.8 L765.9 332.3 L765.9 331.8 L766.0 331.3 L766.1 330.8 L766.2 330.3 L766.2 329.8 L766.3 329.3 L766.4 328.8 L766.4 328.3 L766.5 327.8 L766.5 327.3 L766.6 326.8 L766.6 326.3Z" fill="#8cbaf2" stroke="#6aa2e6" stroke-width="0.8"/><path d="M818.6 336.5 L818.7 337.0 L818.8 337.5 L818.8 338.0 L818.9 338.5 L819.0 339.0 L819.1 339.5 L819.1 340.0 L819.2 340.5 L819.3 341.0 L819.4 341.5 L819.5 342.0 L819.5 342.5 L819.6 343.0 L819.7 343.5 L819.8 344.0 L819.9 344.5 L820.0 345.0 L820.0 345.5 L820.1 346.0 L820.2 346.5 L820.3 347.0 L820.4 347.5 L820.5 348.0 L820.6 348.5 L820.6 349.0 L820.7 349.5 L820.8 350.0 L820.9 350.5 L821.0 351.0 L821.1 351.5 L821.1 352.0 L821.2 352.5 L821.3 353.0 L821.4 353.5 L821.5 354.0 L821.6 354.5 L821.7 355.0 L821.7 355.5 L821.8 356.0 L821.9 356.5 L822.0 357.0 L822.0 357.5 L822.1 358.0 L822.2 358.5 L822.2 359.0 L822.3 359.5 L822.3 360.0 L822.4 360.5 L822.4 361.0 L822.4 361.5 L822.5 362.0 L822.5 362.5 L822.6 363.0 L822.6 363.5 L822.7 364.0 L822.7 364.5 L822.8 365.0 L822.8 365.5 L822.9 366.0 L823.0 366.5 L823.1 367.0 L823.1 367.5 L823.2 368.0 L823.3 368.5 L823.3 369.0 L823.4 369.5 L823.4 370.0 L823.4 370.5 L823.4 371.0 L823.4 371.5 L823.4 372.0 L823.4 372.5 L823.3 373.0 L823.3 373.5 L823.3 374.0 L823.2 374.5 L823.2 375.0 L823.1 375.5 L823.1 376.0 L823.1 376.5 L823.0 377.0 L822.9 377.5 L822.8 378.0 L822.6 378.5 L822.5 379.0 L822.3 379.5 L822.0 380.0 L821.8 380.5 L821.6 381.0 L821.4 381.5 L821.3 382.0 L821.1 382.5 L821.0 383.0 L821.0 383.5 L821.0 384.0 L820.9 384.5 L820.9 385.0 L820.9 385.5 L820.9 386.0 L820.9 386.5 L820.8 387.0 L820.8 387.5 L820.8 388.0 L820.8 388.5 L820.8 389.0 L820.8 389.5 L820.8 390.0 L820.9 390.5 L821.0 391.0 L821.2 391.5 L821.4 392.0 L821.7 392.5 L822.0 393.0 L822.3 393.5 L822.6 394.0 L822.9 394.5 L823.4 395.0 L823.8 395.5 L824.4 396.0 L824.9 396.5 L825.4 397.0 L825.9 397.5 L826.4 398.0 L826.7 398.5 L827.0 399.0 L827.3 399.5 L827.6 400.0 L827.8 400.5 L828.0 401.0 L828.3 401.5 L828.5 402.0 L828.7 402.5 L828.9 403.0 L829.0 403.5 L829.2 404.0 L829.4 404.5 L829.6 405.0 L829.8 405.5 L830.0 406.0 L830.3 406.5 L830.5 407.0 L830.7 407.5 L830.9 408.0 L831.1 408.5 L831.2 409.0 L831.4 409.5 L831.6 410.0 L831.8 410.5 L832.0 411.0 L832.2 411.5 L832.4 412.0 L832.6 412.5 L832.9 413.0 L833.1 413.5 L833.4 414.0 L833.6 414.5 L833.9 415.0 L834.1 415.5 L834.4 416.0 L834.6 416.5 L834.8 417.0 L835.0 417.5 L835.1 418.0 L835.2 418.5 L835.2 419.0 L835.2 419.5 L835.2 420.0 L835.2 420.5 L835.1 421.0 L835.1 421.5 L835.1 422.0 L835.0 422.5 L835.0 423.0 L834.9 423.5 L834.8 424.0 L834.8 424.5 L834.7 425.0 L834.6 425.5 L834.6 426.0 L834.5 426.5 L834.3 427.0 L834.2 427.5 L834.0 428.0 L833.8 428.5 L833.6 429.0 L833.4 429.5 L833.2 430.0 L832.9 430.5 L832.7 431.0 L832.4 431.5 L832.1 432.0 L831.9 432.5 L831.6 433.0 L831.2 433.5 L830.9 434.0 L830.4 434.5 L830.0 435.0 L829.6 435.5 L829.1 436.0 L828.6 436.5 L828.1 437.0 L827.7 437.5 L827.2 438.0 L826.8 438.5 L826.3 439.0 L825.9 439.5 L825.5 440.0 L825.1 440.5 L824.7 441.0 L824.3 441.5 L823.9 442.0 L823.5 442.5 L823.1 443.0 L822.8 443.5 L822.4 444.0 L822.1 444.5 L821.8 445.0 L821.5 445.5 L821.3 446.0 L821.1 446.5 L820.9 447.0 L820.8 447.5 L820.6 448.0 L820.5 448.5 L820.3 449.0 L820.2 449.5 L820.1 450.0 L819.9 450.5 L819.8 451.0 L819.7 451.5 L819.5 452.0 L819.4 452.5 L819.3 453.0 L819.1 453.5 L819.0 454.0 L818.9 454.5 L818.8 455.0 L818.6 455.5 L818.6 455.5 L818.4 455.0 L818.3 454.5 L818.2 454.0 L818.1 453.5 L817.9 453.0 L817.8 452.5 L817.7 452.0 L817.5 451.5 L817.4 451.0 L817.3 450.5 L817.1 450.0 L817.0 449.5 L816.9 449.0 L816.7 448.5 L816.6 448.0 L816.4 447.5 L816.3 447.0 L816.1 446.5 L815.9 446.0 L815.7 445.5 L815.4 445.0 L815.1 444.5 L814.8 444.0 L814.4 443.5 L814.1 443.0 L813.7 442.5 L813.3 442.0 L812.9 441.5 L812.5 441.0 L812.1 440.5 L811.7 440.0 L811.3 439.5 L810.9 439.0 L810.4 438.5 L810.0 438.0 L809.5 437.5 L809.1 437.0 L808.6 436.5 L808.1 436.0 L807.6 435.5 L807.2 435.0 L806.8 434.5 L806.3 434.0 L806.0 433.5 L805.6 433.0 L805.3 432.5 L805.1 432.0 L804.8 431.5 L804.5 431.0 L804.3 430.5 L804.0 430.0 L803.8 429.5 L803.6 429.0 L803.4 428.5 L803.2 428.0 L803.0 427.5 L802.9 427.0 L802.7 426.5 L802.6 426.0 L802.6 425.5 L802.5 425.0 L802.4 424.5 L802.4 424.0 L802.3 423.5 L802.2 423.0 L802.2 422.5 L802.1 422.0 L802.1 421.5 L802.1 421.0 L802.0 420.5 L802.0 420.0 L802.0 419.5 L802.0 419.0 L802.0 418.5 L802.1 418.0 L802.2 417.5 L802.4 417.0 L802.6 416.5 L802.8 416.0 L803.1 415.5 L803.3 415.0 L803.6 414.5 L803.8 414.0 L804.1 413.5 L804.3 413.0 L804.6 412.5 L804.8 412.0 L805.0 411.5 L805.2 411.0 L805.4 410.5 L805.6 410.0 L805.8 409.5 L806.0 409.0 L806.1 408.5 L806.3 408.0 L806.5 407.5 L806.7 407.0 L806.9 406.5 L807.2 406.0 L807.4 405.5 L807.6 405.0 L807.8 404.5 L808.0 404.0 L808.2 403.5 L808.3 403.0 L808.5 402.5 L808.7 402.0 L808.9 401.5 L809.2 401.0 L809.4 400.5 L809.6 400.0 L809.9 399.5 L810.2 399.0 L810.5 398.5 L810.8 398.0 L811.3 397.5 L811.8 397.0 L812.3 396.5 L812.8 396.0 L813.4 395.5 L813.8 395.0 L814.3 394.5 L814.6 394.0 L814.9 393.5 L815.2 393.0 L815.5 392.5 L815.8 392.0 L816.0 391.5 L816.2 391.0 L816.3 390.5 L816.4 390.0 L816.4 389.5 L816.4 389.0 L816.4 388.5 L816.4 388.0 L816.4 387.5 L816.4 387.0 L816.3 386.5 L816.3 386.0 L816.3 385.5 L816.3 385.0 L816.3 384.5 L816.2 384.0 L816.2 383.5 L816.2 383.0 L816.1 382.5 L815.9 382.0 L815.8 381.5 L815.6 381.0 L815.4 380.5 L815.2 380.0 L814.9 379.5 L814.7 379.0 L814.6 378.5 L814.4 378.0 L814.3 377.5 L814.2 377.0 L814.1 376.5 L814.1 376.0 L814.1 375.5 L814.0 375.0 L814.0 374.5 L813.9 374.0 L813.9 373.5 L813.9 373.0 L813.8 372.5 L813.8 372.0 L813.8 371.5 L813.8 371.0 L813.8 370.5 L813.8 370.0 L813.8 369.5 L813.9 369.0 L813.9 368.5 L814.0 368.0 L814.1 367.5 L814.1 367.0 L814.2 366.5 L814.3 366.0 L814.4 365.5 L814.4 365.0 L814.5 364.5 L814.5 364.0 L814.6 363.5 L814.6 363.0 L814.7 362.5 L814.7 362.0 L814.8 361.5 L814.8 361.0 L814.8 360.5 L814.9 360.0 L814.9 359.5 L815.0 359.0 L815.0 358.5 L815.1 358.0 L815.2 357.5 L815.2 357.0 L815.3 356.5 L815.4 356.0 L815.5 355.5 L815.5 355.0 L815.6 354.5 L815.7 354.0 L815.8 353.5 L815.9 353.0 L816.0 352.5 L816.1 352.0 L816.1 351.5 L816.2 351.0 L816.3 350.5 L816.4 350.0 L816.5 349.5 L816.6 349.0 L816.6 348.5 L816.7 348.0 L816.8 347.5 L816.9 347.0 L817.0 346.5 L817.1 346.0 L817.2 345.5 L817.2 345.0 L817.3 344.5 L817.4 344.0 L817.5 343.5 L817.6 343.0 L817.7 342.5 L817.7 342.0 L817.8 341.5 L817.9 341.0 L818.0 340.5 L818.1 340.0 L818.1 339.5 L818.2 339.0 L818.3 338.5 L818.4 338.0 L818.4 337.5 L818.5 337.0 L818.6 336.5Z" fill="#fdc28c" stroke="#f7aa6a" stroke-width="0.8"/><line x1="756.4" y1="377.3" x2="777.3" y2="377.3" stroke="#2b6c78" stroke-width="1.3"/><line x1="750.7" y1="398.3" x2="782.8" y2="398.3" stroke="#1b2aa0" stroke-width="1.6"/><line x1="752" y1="413.3" x2="781.4" y2="413.3" stroke="#2b6c78" stroke-width="1.3"/><line x1="815" y1="395.2" x2="822.7" y2="395.2" stroke="#b8621a" stroke-width="1.3"/><line x1="804.8" y1="414.6" x2="832.6" y2="414.6" stroke="#ee2015" stroke-width="1.6"/><line x1="803.4" y1="423.7" x2="834" y2="423.7" stroke="#b8621a" stroke-width="1.3"/><circle cx="766.6" cy="351.4" r="2.1" fill="#1d9aa8" stroke="#0b6f7e" stroke-width="0.9"/><circle cx="762.1" cy="374.5" r="2.1" fill="#1d9aa8" stroke="#0b6f7e" stroke-width="0.9"/><circle cx="771.6" cy="371.3" r="2.1" fill="#1d9aa8" stroke="#0b6f7e" stroke-width="0.9"/><circle cx="762.1" cy="388.6" r="2.1" fill="#1d9aa8" stroke="#0b6f7e" stroke-width="0.9"/><circle cx="771.6" cy="386.0" r="2.1" fill="#1d9aa8" stroke="#0b6f7e" stroke-width="0.9"/><circle cx="762.0" cy="396.5" r="2.1" fill="#1d9aa8" stroke="#0b6f7e" stroke-width="0.9"/><circle cx="771.5" cy="400.4" r="2.1" fill="#1d9aa8" stroke="#0b6f7e" stroke-width="0.9"/><circle cx="762.0" cy="404.0" r="2.1" fill="#1d9aa8" stroke="#0b6f7e" stroke-width="0.9"/><circle cx="762.0" cy="413.8" r="2.1" fill="#1d9aa8" stroke="#0b6f7e" stroke-width="0.9"/><circle cx="771.5" cy="411.9" r="2.1" fill="#1d9aa8" stroke="#0b6f7e" stroke-width="0.9"/><circle cx="771.5" cy="422.4" r="2.1" fill="#1d9aa8" stroke="#0b6f7e" stroke-width="0.9"/><circle cx="762.0" cy="427.1" r="2.1" fill="#1d9aa8" stroke="#0b6f7e" stroke-width="0.9"/><circle cx="818.6" cy="360.3" r="2.1" fill="#f7a848" stroke="#c9701c" stroke-width="0.9"/><circle cx="818.6" cy="371.7" r="2.1" fill="#f7a848" stroke="#c9701c" stroke-width="0.9"/><circle cx="818.6" cy="377.7" r="2.1" fill="#f7a848" stroke="#c9701c" stroke-width="0.9"/><circle cx="809.5" cy="402.4" r="2.1" fill="#f7a848" stroke="#c9701c" stroke-width="0.9"/><circle cx="818.6" cy="401.0" r="2.1" fill="#f7a848" stroke="#c9701c" stroke-width="0.9"/><circle cx="818.6" cy="406.7" r="2.1" fill="#f7a848" stroke="#c9701c" stroke-width="0.9"/><circle cx="809.5" cy="412.9" r="2.1" fill="#f7a848" stroke="#c9701c" stroke-width="0.9"/><circle cx="818.6" cy="418.3" r="2.1" fill="#f7a848" stroke="#c9701c" stroke-width="0.9"/><circle cx="828.2" cy="416.5" r="2.1" fill="#f7a848" stroke="#c9701c" stroke-width="0.9"/><circle cx="809.5" cy="421.4" r="2.1" fill="#f7a848" stroke="#c9701c" stroke-width="0.9"/><circle cx="818.6" cy="425.1" r="2.1" fill="#f7a848" stroke="#c9701c" stroke-width="0.9"/><circle cx="828.2" cy="423.5" r="2.1" fill="#f7a848" stroke="#c9701c" stroke-width="0.9"/><circle cx="828.2" cy="429.8" r="2.1" fill="#f7a848" stroke="#c9701c" stroke-width="0.9"/><circle cx="809.5" cy="432.8" r="2.1" fill="#f7a848" stroke="#c9701c" stroke-width="0.9"/>
</svg>
</body></html>
